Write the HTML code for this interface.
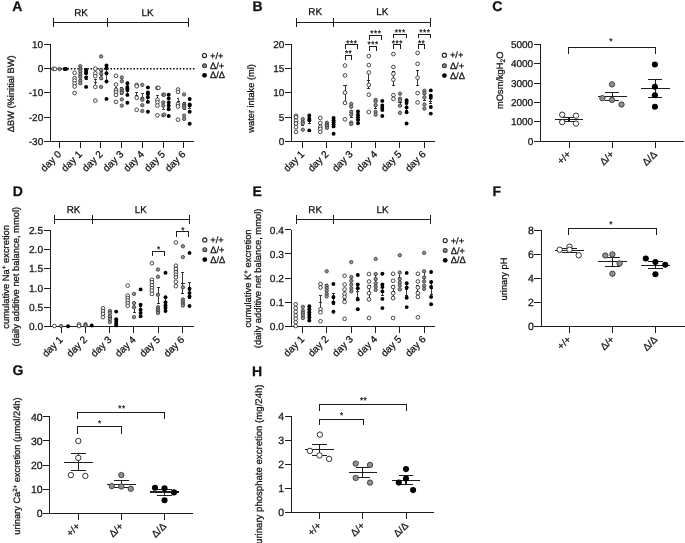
<!DOCTYPE html>
<html><head><meta charset="utf-8"><style>
html,body{margin:0;padding:0;background:#fff;width:685px;height:543px;overflow:hidden}
svg{display:block;will-change:transform}
line,polyline{shape-rendering:crispEdges}
text{text-rendering:geometricPrecision;font-family:"Liberation Sans",sans-serif;fill:#111;stroke:#111;stroke-width:0.25px}
</style></head><body>
<svg width="685" height="543" viewBox="0 0 685 543">
<rect width="685" height="543" fill="#fff"/>
<text x="12.2" y="10.5" font-size="14" text-anchor="start" font-weight="bold" >A</text>
<line x1="53.5" y1="22.5" x2="188.0" y2="22.5" stroke="#1e1e1e" stroke-width="1.0" />
<line x1="53.5" y1="18.2" x2="53.5" y2="26.8" stroke="#1e1e1e" stroke-width="1.0" />
<line x1="107.8" y1="18.2" x2="107.8" y2="26.8" stroke="#1e1e1e" stroke-width="1.0" />
<line x1="188.0" y1="18.2" x2="188.0" y2="26.8" stroke="#1e1e1e" stroke-width="1.0" />
<text x="81.0" y="15.5" font-size="9.9" text-anchor="middle" font-weight="normal" >RK</text>
<text x="147.5" y="15.5" font-size="9.9" text-anchor="middle" font-weight="normal" >LK</text>
<line x1="50.4" y1="44.4" x2="50.4" y2="141.2" stroke="#1e1e1e" stroke-width="1.0" />
<line x1="43.8" y1="44.4" x2="50.4" y2="44.4" stroke="#1e1e1e" stroke-width="1.0" />
<text x="43.2" y="48.0" font-size="10" text-anchor="end" font-weight="normal" >10</text>
<line x1="43.8" y1="68.6" x2="50.4" y2="68.6" stroke="#1e1e1e" stroke-width="1.0" />
<text x="43.2" y="72.2" font-size="10" text-anchor="end" font-weight="normal" >0</text>
<line x1="43.8" y1="92.8" x2="50.4" y2="92.8" stroke="#1e1e1e" stroke-width="1.0" />
<text x="43.2" y="96.4" font-size="10" text-anchor="end" font-weight="normal" >-10</text>
<line x1="43.8" y1="117.0" x2="50.4" y2="117.0" stroke="#1e1e1e" stroke-width="1.0" />
<text x="43.2" y="120.6" font-size="10" text-anchor="end" font-weight="normal" >-20</text>
<line x1="43.8" y1="141.2" x2="50.4" y2="141.2" stroke="#1e1e1e" stroke-width="1.0" />
<text x="43.2" y="144.8" font-size="10" text-anchor="end" font-weight="normal" >-30</text>
<line x1="50.4" y1="141.2" x2="194.3" y2="141.2" stroke="#1e1e1e" stroke-width="1.0" />
<line x1="59.4" y1="141.2" x2="59.4" y2="148.0" stroke="#1e1e1e" stroke-width="1.0" />
<line x1="80.1" y1="141.2" x2="80.1" y2="148.0" stroke="#1e1e1e" stroke-width="1.0" />
<line x1="100.9" y1="141.2" x2="100.9" y2="148.0" stroke="#1e1e1e" stroke-width="1.0" />
<line x1="121.6" y1="141.2" x2="121.6" y2="148.0" stroke="#1e1e1e" stroke-width="1.0" />
<line x1="142.3" y1="141.2" x2="142.3" y2="148.0" stroke="#1e1e1e" stroke-width="1.0" />
<line x1="163.1" y1="141.2" x2="163.1" y2="148.0" stroke="#1e1e1e" stroke-width="1.0" />
<line x1="183.8" y1="141.2" x2="183.8" y2="148.0" stroke="#1e1e1e" stroke-width="1.0" />
<line x1="51" y1="68.8" x2="196" y2="68.8" stroke="#000" stroke-width="1.5" stroke-dasharray="1.5 1.8" style="shape-rendering:auto"/>
<text x="61.9" y="154.9" font-size="10" text-anchor="end" font-weight="normal" transform="rotate(-45 61.9 154.9)" >day 0</text>
<text x="82.6" y="154.9" font-size="10" text-anchor="end" font-weight="normal" transform="rotate(-45 82.6 154.9)" >day 1</text>
<text x="103.4" y="154.9" font-size="10" text-anchor="end" font-weight="normal" transform="rotate(-45 103.4 154.9)" >day 2</text>
<text x="124.1" y="154.9" font-size="10" text-anchor="end" font-weight="normal" transform="rotate(-45 124.1 154.9)" >day 3</text>
<text x="144.8" y="154.9" font-size="10" text-anchor="end" font-weight="normal" transform="rotate(-45 144.8 154.9)" >day 4</text>
<text x="165.6" y="154.9" font-size="10" text-anchor="end" font-weight="normal" transform="rotate(-45 165.6 154.9)" >day 5</text>
<text x="186.3" y="154.9" font-size="10" text-anchor="end" font-weight="normal" transform="rotate(-45 186.3 154.9)" >day 6</text>
<text x="14.5" y="93.8" font-size="9.3" text-anchor="middle" font-weight="normal" transform="rotate(-90 14.5 93.8)" >ΔBW (%initial BW)</text>
<text x="210.0" y="58.7" font-size="9.3" text-anchor="start" font-weight="normal" >+/+</text>
<text x="210.0" y="68.9" font-size="9.3" text-anchor="start" font-weight="normal" >Δ/+</text>
<text x="210.0" y="78.4" font-size="9.3" text-anchor="start" font-weight="normal" >Δ/Δ</text>
<line x1="73.1" y1="83.6" x2="76.1" y2="83.6" stroke="#1e1e1e" stroke-width="0.8" />
<line x1="74.6" y1="80.5" x2="74.6" y2="86.7" stroke="#1e1e1e" stroke-width="0.8" />
<line x1="73.2" y1="80.5" x2="76.0" y2="80.5" stroke="#1e1e1e" stroke-width="0.8" />
<line x1="73.2" y1="86.7" x2="76.0" y2="86.7" stroke="#1e1e1e" stroke-width="0.8" />
<line x1="78.8" y1="76.0" x2="81.8" y2="76.0" stroke="#1e1e1e" stroke-width="0.8" />
<line x1="80.3" y1="72.4" x2="80.3" y2="79.9" stroke="#1e1e1e" stroke-width="0.8" />
<line x1="78.9" y1="72.4" x2="81.7" y2="72.4" stroke="#1e1e1e" stroke-width="0.8" />
<line x1="78.9" y1="79.9" x2="81.7" y2="79.9" stroke="#1e1e1e" stroke-width="0.8" />
<line x1="84.6" y1="76.0" x2="87.6" y2="76.0" stroke="#1e1e1e" stroke-width="0.8" />
<line x1="86.1" y1="72.5" x2="86.1" y2="79.5" stroke="#1e1e1e" stroke-width="0.8" />
<line x1="84.7" y1="72.5" x2="87.5" y2="72.5" stroke="#1e1e1e" stroke-width="0.8" />
<line x1="84.7" y1="79.5" x2="87.5" y2="79.5" stroke="#1e1e1e" stroke-width="0.8" />
<line x1="93.8" y1="82.4" x2="96.8" y2="82.4" stroke="#1e1e1e" stroke-width="0.8" />
<line x1="95.3" y1="79.0" x2="95.3" y2="86.5" stroke="#1e1e1e" stroke-width="0.8" />
<line x1="93.9" y1="79.0" x2="96.7" y2="79.0" stroke="#1e1e1e" stroke-width="0.8" />
<line x1="93.9" y1="86.5" x2="96.7" y2="86.5" stroke="#1e1e1e" stroke-width="0.8" />
<line x1="99.6" y1="75.0" x2="102.6" y2="75.0" stroke="#1e1e1e" stroke-width="0.8" />
<line x1="101.1" y1="71.0" x2="101.1" y2="79.0" stroke="#1e1e1e" stroke-width="0.8" />
<line x1="99.7" y1="71.0" x2="102.5" y2="71.0" stroke="#1e1e1e" stroke-width="0.8" />
<line x1="99.7" y1="79.0" x2="102.5" y2="79.0" stroke="#1e1e1e" stroke-width="0.8" />
<line x1="105.0" y1="74.5" x2="108.0" y2="74.5" stroke="#1e1e1e" stroke-width="0.8" />
<line x1="106.5" y1="68.3" x2="106.5" y2="80.7" stroke="#1e1e1e" stroke-width="0.8" />
<line x1="105.1" y1="68.3" x2="107.9" y2="68.3" stroke="#1e1e1e" stroke-width="0.8" />
<line x1="105.1" y1="80.7" x2="107.9" y2="80.7" stroke="#1e1e1e" stroke-width="0.8" />
<line x1="114.5" y1="90.5" x2="117.5" y2="90.5" stroke="#1e1e1e" stroke-width="0.8" />
<line x1="116.0" y1="87.5" x2="116.0" y2="93.5" stroke="#1e1e1e" stroke-width="0.8" />
<line x1="114.6" y1="87.5" x2="117.4" y2="87.5" stroke="#1e1e1e" stroke-width="0.8" />
<line x1="114.6" y1="93.5" x2="117.4" y2="93.5" stroke="#1e1e1e" stroke-width="0.8" />
<line x1="120.3" y1="91.0" x2="123.3" y2="91.0" stroke="#1e1e1e" stroke-width="0.8" />
<line x1="121.8" y1="87.4" x2="121.8" y2="94.9" stroke="#1e1e1e" stroke-width="0.8" />
<line x1="120.4" y1="87.4" x2="123.2" y2="87.4" stroke="#1e1e1e" stroke-width="0.8" />
<line x1="120.4" y1="94.9" x2="123.2" y2="94.9" stroke="#1e1e1e" stroke-width="0.8" />
<line x1="125.9" y1="91.0" x2="128.9" y2="91.0" stroke="#1e1e1e" stroke-width="0.8" />
<line x1="127.4" y1="88.0" x2="127.4" y2="94.0" stroke="#1e1e1e" stroke-width="0.8" />
<line x1="126.0" y1="88.0" x2="128.8" y2="88.0" stroke="#1e1e1e" stroke-width="0.8" />
<line x1="126.0" y1="94.0" x2="128.8" y2="94.0" stroke="#1e1e1e" stroke-width="0.8" />
<line x1="135.2" y1="95.0" x2="138.2" y2="95.0" stroke="#1e1e1e" stroke-width="0.8" />
<line x1="136.7" y1="92.0" x2="136.7" y2="98.0" stroke="#1e1e1e" stroke-width="0.8" />
<line x1="135.3" y1="92.0" x2="138.1" y2="92.0" stroke="#1e1e1e" stroke-width="0.8" />
<line x1="135.3" y1="98.0" x2="138.1" y2="98.0" stroke="#1e1e1e" stroke-width="0.8" />
<line x1="140.8" y1="97.0" x2="143.8" y2="97.0" stroke="#1e1e1e" stroke-width="0.8" />
<line x1="142.3" y1="93.6" x2="142.3" y2="100.5" stroke="#1e1e1e" stroke-width="0.8" />
<line x1="140.9" y1="93.6" x2="143.7" y2="93.6" stroke="#1e1e1e" stroke-width="0.8" />
<line x1="140.9" y1="100.5" x2="143.7" y2="100.5" stroke="#1e1e1e" stroke-width="0.8" />
<line x1="146.4" y1="97.5" x2="149.4" y2="97.5" stroke="#1e1e1e" stroke-width="0.8" />
<line x1="147.9" y1="94.5" x2="147.9" y2="100.5" stroke="#1e1e1e" stroke-width="0.8" />
<line x1="146.5" y1="94.5" x2="149.3" y2="94.5" stroke="#1e1e1e" stroke-width="0.8" />
<line x1="146.5" y1="100.5" x2="149.3" y2="100.5" stroke="#1e1e1e" stroke-width="0.8" />
<line x1="155.9" y1="99.0" x2="158.9" y2="99.0" stroke="#1e1e1e" stroke-width="0.8" />
<line x1="157.4" y1="95.3" x2="157.4" y2="102.7" stroke="#1e1e1e" stroke-width="0.8" />
<line x1="156.0" y1="95.3" x2="158.8" y2="95.3" stroke="#1e1e1e" stroke-width="0.8" />
<line x1="156.0" y1="102.7" x2="158.8" y2="102.7" stroke="#1e1e1e" stroke-width="0.8" />
<line x1="161.7" y1="105.4" x2="164.7" y2="105.4" stroke="#1e1e1e" stroke-width="0.8" />
<line x1="163.2" y1="101.5" x2="163.2" y2="109.2" stroke="#1e1e1e" stroke-width="0.8" />
<line x1="161.8" y1="101.5" x2="164.6" y2="101.5" stroke="#1e1e1e" stroke-width="0.8" />
<line x1="161.8" y1="109.2" x2="164.6" y2="109.2" stroke="#1e1e1e" stroke-width="0.8" />
<line x1="167.2" y1="104.6" x2="170.2" y2="104.6" stroke="#1e1e1e" stroke-width="0.8" />
<line x1="168.7" y1="102.0" x2="168.7" y2="107.2" stroke="#1e1e1e" stroke-width="0.8" />
<line x1="167.3" y1="102.0" x2="170.1" y2="102.0" stroke="#1e1e1e" stroke-width="0.8" />
<line x1="167.3" y1="107.2" x2="170.1" y2="107.2" stroke="#1e1e1e" stroke-width="0.8" />
<line x1="176.5" y1="101.5" x2="179.5" y2="101.5" stroke="#1e1e1e" stroke-width="0.8" />
<line x1="178.0" y1="98.6" x2="178.0" y2="104.4" stroke="#1e1e1e" stroke-width="0.8" />
<line x1="176.6" y1="98.6" x2="179.4" y2="98.6" stroke="#1e1e1e" stroke-width="0.8" />
<line x1="176.6" y1="104.4" x2="179.4" y2="104.4" stroke="#1e1e1e" stroke-width="0.8" />
<line x1="182.6" y1="106.0" x2="185.6" y2="106.0" stroke="#1e1e1e" stroke-width="0.8" />
<line x1="184.1" y1="102.3" x2="184.1" y2="109.7" stroke="#1e1e1e" stroke-width="0.8" />
<line x1="182.7" y1="102.3" x2="185.5" y2="102.3" stroke="#1e1e1e" stroke-width="0.8" />
<line x1="182.7" y1="109.7" x2="185.5" y2="109.7" stroke="#1e1e1e" stroke-width="0.8" />
<line x1="188.2" y1="106.0" x2="191.2" y2="106.0" stroke="#1e1e1e" stroke-width="0.8" />
<line x1="189.7" y1="103.5" x2="189.7" y2="108.5" stroke="#1e1e1e" stroke-width="0.8" />
<line x1="188.3" y1="103.5" x2="191.1" y2="103.5" stroke="#1e1e1e" stroke-width="0.8" />
<line x1="188.3" y1="108.5" x2="191.1" y2="108.5" stroke="#1e1e1e" stroke-width="0.8" />
<text x="252.4" y="10.7" font-size="14" text-anchor="start" font-weight="bold" >B</text>
<line x1="296.4" y1="22.3" x2="430.6" y2="22.3" stroke="#1e1e1e" stroke-width="1.0" />
<line x1="296.4" y1="18.0" x2="296.4" y2="26.6" stroke="#1e1e1e" stroke-width="1.0" />
<line x1="333.6" y1="18.0" x2="333.6" y2="26.6" stroke="#1e1e1e" stroke-width="1.0" />
<line x1="430.6" y1="18.0" x2="430.6" y2="26.6" stroke="#1e1e1e" stroke-width="1.0" />
<text x="315.2" y="15.3" font-size="9.9" text-anchor="middle" font-weight="normal" >RK</text>
<text x="382.4" y="15.3" font-size="9.9" text-anchor="middle" font-weight="normal" >LK</text>
<line x1="291.5" y1="44.4" x2="291.5" y2="141.2" stroke="#1e1e1e" stroke-width="1.0" />
<line x1="284.9" y1="141.2" x2="291.5" y2="141.2" stroke="#1e1e1e" stroke-width="1.0" />
<text x="284.3" y="144.8" font-size="10" text-anchor="end" font-weight="normal" >0</text>
<line x1="284.9" y1="117.0" x2="291.5" y2="117.0" stroke="#1e1e1e" stroke-width="1.0" />
<text x="284.3" y="120.6" font-size="10" text-anchor="end" font-weight="normal" >5</text>
<line x1="284.9" y1="92.8" x2="291.5" y2="92.8" stroke="#1e1e1e" stroke-width="1.0" />
<text x="284.3" y="96.4" font-size="10" text-anchor="end" font-weight="normal" >10</text>
<line x1="284.9" y1="68.6" x2="291.5" y2="68.6" stroke="#1e1e1e" stroke-width="1.0" />
<text x="284.3" y="72.2" font-size="10" text-anchor="end" font-weight="normal" >15</text>
<line x1="284.9" y1="44.4" x2="291.5" y2="44.4" stroke="#1e1e1e" stroke-width="1.0" />
<text x="284.3" y="48.0" font-size="10" text-anchor="end" font-weight="normal" >20</text>
<line x1="291.5" y1="141.2" x2="435.3" y2="141.2" stroke="#1e1e1e" stroke-width="1.0" />
<line x1="302.4" y1="141.2" x2="302.4" y2="148.0" stroke="#1e1e1e" stroke-width="1.0" />
<line x1="326.7" y1="141.2" x2="326.7" y2="148.0" stroke="#1e1e1e" stroke-width="1.0" />
<line x1="351.0" y1="141.2" x2="351.0" y2="148.0" stroke="#1e1e1e" stroke-width="1.0" />
<line x1="375.4" y1="141.2" x2="375.4" y2="148.0" stroke="#1e1e1e" stroke-width="1.0" />
<line x1="399.7" y1="141.2" x2="399.7" y2="148.0" stroke="#1e1e1e" stroke-width="1.0" />
<line x1="424.0" y1="141.2" x2="424.0" y2="148.0" stroke="#1e1e1e" stroke-width="1.0" />
<text x="304.9" y="154.9" font-size="10" text-anchor="end" font-weight="normal" transform="rotate(-45 304.9 154.9)" >day 1</text>
<text x="329.2" y="154.9" font-size="10" text-anchor="end" font-weight="normal" transform="rotate(-45 329.2 154.9)" >day 2</text>
<text x="353.5" y="154.9" font-size="10" text-anchor="end" font-weight="normal" transform="rotate(-45 353.5 154.9)" >day 3</text>
<text x="377.9" y="154.9" font-size="10" text-anchor="end" font-weight="normal" transform="rotate(-45 377.9 154.9)" >day 4</text>
<text x="402.2" y="154.9" font-size="10" text-anchor="end" font-weight="normal" transform="rotate(-45 402.2 154.9)" >day 5</text>
<text x="426.5" y="154.9" font-size="10" text-anchor="end" font-weight="normal" transform="rotate(-45 426.5 154.9)" >day 6</text>
<text x="254.5" y="98.4" font-size="9.3" text-anchor="middle" font-weight="normal" transform="rotate(-90 254.5 98.4)" >water intake (ml)</text>
<text x="449.9" y="58.3" font-size="9.3" text-anchor="start" font-weight="normal" >+/+</text>
<text x="449.9" y="68.9" font-size="9.3" text-anchor="start" font-weight="normal" >Δ/+</text>
<text x="449.9" y="78.7" font-size="9.3" text-anchor="start" font-weight="normal" >Δ/Δ</text>
<line x1="294.4" y1="123.5" x2="297.6" y2="123.5" stroke="#1e1e1e" stroke-width="0.9" />
<line x1="296.0" y1="122.3" x2="296.0" y2="124.7" stroke="#1e1e1e" stroke-width="0.9" />
<line x1="294.4" y1="122.3" x2="297.6" y2="122.3" stroke="#1e1e1e" stroke-width="0.9" />
<line x1="294.4" y1="124.7" x2="297.6" y2="124.7" stroke="#1e1e1e" stroke-width="0.9" />
<line x1="301.2" y1="123.3" x2="304.4" y2="123.3" stroke="#1e1e1e" stroke-width="0.9" />
<line x1="302.8" y1="121.5" x2="302.8" y2="125.0" stroke="#1e1e1e" stroke-width="0.9" />
<line x1="301.2" y1="121.5" x2="304.4" y2="121.5" stroke="#1e1e1e" stroke-width="0.9" />
<line x1="301.2" y1="125.0" x2="304.4" y2="125.0" stroke="#1e1e1e" stroke-width="0.9" />
<line x1="307.7" y1="121.2" x2="310.9" y2="121.2" stroke="#1e1e1e" stroke-width="0.9" />
<line x1="309.3" y1="119.0" x2="309.3" y2="123.5" stroke="#1e1e1e" stroke-width="0.9" />
<line x1="307.7" y1="119.0" x2="310.9" y2="119.0" stroke="#1e1e1e" stroke-width="0.9" />
<line x1="307.7" y1="123.5" x2="310.9" y2="123.5" stroke="#1e1e1e" stroke-width="0.9" />
<line x1="318.7" y1="125.0" x2="321.9" y2="125.0" stroke="#1e1e1e" stroke-width="0.9" />
<line x1="320.3" y1="123.5" x2="320.3" y2="126.5" stroke="#1e1e1e" stroke-width="0.9" />
<line x1="318.7" y1="123.5" x2="321.9" y2="123.5" stroke="#1e1e1e" stroke-width="0.9" />
<line x1="318.7" y1="126.5" x2="321.9" y2="126.5" stroke="#1e1e1e" stroke-width="0.9" />
<line x1="325.3" y1="125.2" x2="328.5" y2="125.2" stroke="#1e1e1e" stroke-width="0.9" />
<line x1="326.9" y1="124.0" x2="326.9" y2="126.5" stroke="#1e1e1e" stroke-width="0.9" />
<line x1="325.3" y1="124.0" x2="328.5" y2="124.0" stroke="#1e1e1e" stroke-width="0.9" />
<line x1="325.3" y1="126.5" x2="328.5" y2="126.5" stroke="#1e1e1e" stroke-width="0.9" />
<line x1="332.0" y1="124.0" x2="335.2" y2="124.0" stroke="#1e1e1e" stroke-width="0.9" />
<line x1="333.6" y1="121.5" x2="333.6" y2="126.5" stroke="#1e1e1e" stroke-width="0.9" />
<line x1="332.0" y1="121.5" x2="335.2" y2="121.5" stroke="#1e1e1e" stroke-width="0.9" />
<line x1="332.0" y1="126.5" x2="335.2" y2="126.5" stroke="#1e1e1e" stroke-width="0.9" />
<line x1="343.4" y1="93.5" x2="346.6" y2="93.5" stroke="#1e1e1e" stroke-width="0.9" />
<line x1="345.0" y1="85.0" x2="345.0" y2="102.3" stroke="#1e1e1e" stroke-width="0.9" />
<line x1="343.4" y1="85.0" x2="346.6" y2="85.0" stroke="#1e1e1e" stroke-width="0.9" />
<line x1="343.4" y1="102.3" x2="346.6" y2="102.3" stroke="#1e1e1e" stroke-width="0.9" />
<line x1="349.6" y1="113.5" x2="352.8" y2="113.5" stroke="#1e1e1e" stroke-width="0.9" />
<line x1="351.2" y1="110.5" x2="351.2" y2="117.3" stroke="#1e1e1e" stroke-width="0.9" />
<line x1="349.6" y1="110.5" x2="352.8" y2="110.5" stroke="#1e1e1e" stroke-width="0.9" />
<line x1="349.6" y1="117.3" x2="352.8" y2="117.3" stroke="#1e1e1e" stroke-width="0.9" />
<line x1="356.4" y1="117.3" x2="359.6" y2="117.3" stroke="#1e1e1e" stroke-width="0.9" />
<line x1="358.0" y1="115.0" x2="358.0" y2="119.6" stroke="#1e1e1e" stroke-width="0.9" />
<line x1="356.4" y1="115.0" x2="359.6" y2="115.0" stroke="#1e1e1e" stroke-width="0.9" />
<line x1="356.4" y1="119.6" x2="359.6" y2="119.6" stroke="#1e1e1e" stroke-width="0.9" />
<line x1="367.2" y1="80.6" x2="370.4" y2="80.6" stroke="#1e1e1e" stroke-width="0.9" />
<line x1="368.8" y1="72.3" x2="368.8" y2="88.8" stroke="#1e1e1e" stroke-width="0.9" />
<line x1="367.2" y1="72.3" x2="370.4" y2="72.3" stroke="#1e1e1e" stroke-width="0.9" />
<line x1="367.2" y1="88.8" x2="370.4" y2="88.8" stroke="#1e1e1e" stroke-width="0.9" />
<line x1="374.0" y1="106.5" x2="377.2" y2="106.5" stroke="#1e1e1e" stroke-width="0.9" />
<line x1="375.6" y1="104.5" x2="375.6" y2="108.5" stroke="#1e1e1e" stroke-width="0.9" />
<line x1="374.0" y1="104.5" x2="377.2" y2="104.5" stroke="#1e1e1e" stroke-width="0.9" />
<line x1="374.0" y1="108.5" x2="377.2" y2="108.5" stroke="#1e1e1e" stroke-width="0.9" />
<line x1="380.7" y1="108.0" x2="383.9" y2="108.0" stroke="#1e1e1e" stroke-width="0.9" />
<line x1="382.3" y1="105.5" x2="382.3" y2="110.5" stroke="#1e1e1e" stroke-width="0.9" />
<line x1="380.7" y1="105.5" x2="383.9" y2="105.5" stroke="#1e1e1e" stroke-width="0.9" />
<line x1="380.7" y1="110.5" x2="383.9" y2="110.5" stroke="#1e1e1e" stroke-width="0.9" />
<line x1="391.8" y1="78.4" x2="395.0" y2="78.4" stroke="#1e1e1e" stroke-width="0.9" />
<line x1="393.4" y1="71.2" x2="393.4" y2="85.6" stroke="#1e1e1e" stroke-width="0.9" />
<line x1="391.8" y1="71.2" x2="395.0" y2="71.2" stroke="#1e1e1e" stroke-width="0.9" />
<line x1="391.8" y1="85.6" x2="395.0" y2="85.6" stroke="#1e1e1e" stroke-width="0.9" />
<line x1="398.4" y1="102.2" x2="401.6" y2="102.2" stroke="#1e1e1e" stroke-width="0.9" />
<line x1="400.0" y1="99.5" x2="400.0" y2="105.0" stroke="#1e1e1e" stroke-width="0.9" />
<line x1="398.4" y1="99.5" x2="401.6" y2="99.5" stroke="#1e1e1e" stroke-width="0.9" />
<line x1="398.4" y1="105.0" x2="401.6" y2="105.0" stroke="#1e1e1e" stroke-width="0.9" />
<line x1="405.0" y1="107.5" x2="408.2" y2="107.5" stroke="#1e1e1e" stroke-width="0.9" />
<line x1="406.6" y1="104.0" x2="406.6" y2="110.5" stroke="#1e1e1e" stroke-width="0.9" />
<line x1="405.0" y1="104.0" x2="408.2" y2="104.0" stroke="#1e1e1e" stroke-width="0.9" />
<line x1="405.0" y1="110.5" x2="408.2" y2="110.5" stroke="#1e1e1e" stroke-width="0.9" />
<line x1="416.0" y1="78.0" x2="419.2" y2="78.0" stroke="#1e1e1e" stroke-width="0.9" />
<line x1="417.6" y1="70.4" x2="417.6" y2="85.6" stroke="#1e1e1e" stroke-width="0.9" />
<line x1="416.0" y1="70.4" x2="419.2" y2="70.4" stroke="#1e1e1e" stroke-width="0.9" />
<line x1="416.0" y1="85.6" x2="419.2" y2="85.6" stroke="#1e1e1e" stroke-width="0.9" />
<line x1="422.8" y1="97.4" x2="426.0" y2="97.4" stroke="#1e1e1e" stroke-width="0.9" />
<line x1="424.4" y1="94.8" x2="424.4" y2="100.3" stroke="#1e1e1e" stroke-width="0.9" />
<line x1="422.8" y1="94.8" x2="426.0" y2="94.8" stroke="#1e1e1e" stroke-width="0.9" />
<line x1="422.8" y1="100.3" x2="426.0" y2="100.3" stroke="#1e1e1e" stroke-width="0.9" />
<line x1="429.2" y1="101.5" x2="432.4" y2="101.5" stroke="#1e1e1e" stroke-width="0.9" />
<line x1="430.8" y1="98.0" x2="430.8" y2="103.2" stroke="#1e1e1e" stroke-width="0.9" />
<line x1="429.2" y1="98.0" x2="432.4" y2="98.0" stroke="#1e1e1e" stroke-width="0.9" />
<line x1="429.2" y1="103.2" x2="432.4" y2="103.2" stroke="#1e1e1e" stroke-width="0.9" />
<polyline points="345.1,49.1 345.1,44.4 357.5,44.4 357.5,49.1" fill="none" stroke="#1e1e1e" stroke-width="1"/>
<text x="351.8" y="45.6" font-size="8.2" text-anchor="middle" font-weight="normal" letter-spacing="0.5">***</text>
<polyline points="345.1,60.0 345.1,55.2 351.4,55.2 351.4,60.0" fill="none" stroke="#1e1e1e" stroke-width="1"/>
<text x="348.6" y="55.9" font-size="8.2" text-anchor="middle" font-weight="normal" letter-spacing="0.5">**</text>
<polyline points="369.2,40.3 369.2,35.2 381.6,35.2 381.6,40.3" fill="none" stroke="#1e1e1e" stroke-width="1"/>
<text x="375.9" y="36.1" font-size="8.2" text-anchor="middle" font-weight="normal" letter-spacing="0.5">***</text>
<polyline points="369.2,51.3 369.2,46.5 376.2,46.5 376.2,51.3" fill="none" stroke="#1e1e1e" stroke-width="1"/>
<text x="373.1" y="47.0" font-size="8.2" text-anchor="middle" font-weight="normal" letter-spacing="0.5">***</text>
<polyline points="393.7,38.4 393.7,34.0 406.4,34.0 406.4,38.4" fill="none" stroke="#1e1e1e" stroke-width="1"/>
<text x="400.2" y="35.0" font-size="8.2" text-anchor="middle" font-weight="normal" letter-spacing="0.5">***</text>
<polyline points="393.7,49.1 393.7,44.4 400.3,44.4 400.3,49.1" fill="none" stroke="#1e1e1e" stroke-width="1"/>
<text x="397.4" y="45.7" font-size="8.2" text-anchor="middle" font-weight="normal" letter-spacing="0.5">***</text>
<polyline points="418.4,38.4 418.4,34.0 430.5,34.0 430.5,38.4" fill="none" stroke="#1e1e1e" stroke-width="1"/>
<text x="424.8" y="35.0" font-size="8.2" text-anchor="middle" font-weight="normal" letter-spacing="0.5">***</text>
<polyline points="418.4,49.1 418.4,44.4 424.4,44.4 424.4,49.1" fill="none" stroke="#1e1e1e" stroke-width="1"/>
<text x="421.6" y="45.7" font-size="8.2" text-anchor="middle" font-weight="normal" letter-spacing="0.5">**</text>
<text x="492.3" y="10.6" font-size="14" text-anchor="start" font-weight="bold" >C</text>
<line x1="540.4" y1="44.1" x2="540.4" y2="141.2" stroke="#1e1e1e" stroke-width="1.0" />
<line x1="533.8" y1="141.2" x2="540.4" y2="141.2" stroke="#1e1e1e" stroke-width="1.0" />
<text x="533.2" y="144.8" font-size="10" text-anchor="end" font-weight="normal" >0</text>
<line x1="533.8" y1="121.8" x2="540.4" y2="121.8" stroke="#1e1e1e" stroke-width="1.0" />
<text x="533.2" y="125.4" font-size="10" text-anchor="end" font-weight="normal" >1000</text>
<line x1="533.8" y1="102.4" x2="540.4" y2="102.4" stroke="#1e1e1e" stroke-width="1.0" />
<text x="533.2" y="106.0" font-size="10" text-anchor="end" font-weight="normal" >2000</text>
<line x1="533.8" y1="83.0" x2="540.4" y2="83.0" stroke="#1e1e1e" stroke-width="1.0" />
<text x="533.2" y="86.6" font-size="10" text-anchor="end" font-weight="normal" >3000</text>
<line x1="533.8" y1="63.6" x2="540.4" y2="63.6" stroke="#1e1e1e" stroke-width="1.0" />
<text x="533.2" y="67.2" font-size="10" text-anchor="end" font-weight="normal" >4000</text>
<line x1="533.8" y1="44.2" x2="540.4" y2="44.2" stroke="#1e1e1e" stroke-width="1.0" />
<text x="533.2" y="47.8" font-size="10" text-anchor="end" font-weight="normal" >5000</text>
<line x1="540.4" y1="141.2" x2="683.5" y2="141.2" stroke="#1e1e1e" stroke-width="1.0" />
<line x1="569.0" y1="141.2" x2="569.0" y2="148.0" stroke="#1e1e1e" stroke-width="1.0" />
<line x1="612.2" y1="141.2" x2="612.2" y2="148.0" stroke="#1e1e1e" stroke-width="1.0" />
<line x1="655.2" y1="141.2" x2="655.2" y2="148.0" stroke="#1e1e1e" stroke-width="1.0" />
<text x="571.5" y="154.9" font-size="10" text-anchor="end" font-weight="normal" transform="rotate(-45 571.5 154.9)" >+/+</text>
<text x="614.7" y="154.9" font-size="10" text-anchor="end" font-weight="normal" transform="rotate(-45 614.7 154.9)" >Δ/+</text>
<text x="657.7" y="154.9" font-size="10" text-anchor="end" font-weight="normal" transform="rotate(-45 657.7 154.9)" >Δ/Δ</text>
<text x="503.0" y="80.3" font-size="9.3" text-anchor="middle" font-weight="normal" transform="rotate(-90 503.0 80.3)" >mOsm/kgH<tspan font-size="6.5" dy="2">2</tspan><tspan dy="-2">O</tspan></text>
<polyline points="568.5,53.5 568.5,47.0 655.2,47.0 655.2,53.5" fill="none" stroke="#1e1e1e" stroke-width="1"/>
<text x="611.2" y="43.8" font-size="8.2" text-anchor="middle" font-weight="normal" letter-spacing="0.5">*</text>
<line x1="554.7" y1="119.3" x2="583.3" y2="119.3" stroke="#1e1e1e" stroke-width="1.1" />
<line x1="569.0" y1="117.1" x2="569.0" y2="121.4" stroke="#1e1e1e" stroke-width="1.1" />
<line x1="561.8" y1="117.1" x2="576.2" y2="117.1" stroke="#1e1e1e" stroke-width="1.1" />
<line x1="561.8" y1="121.4" x2="576.2" y2="121.4" stroke="#1e1e1e" stroke-width="1.1" />
<line x1="597.9" y1="96.7" x2="626.5" y2="96.7" stroke="#1e1e1e" stroke-width="1.1" />
<line x1="612.2" y1="92.4" x2="612.2" y2="100.9" stroke="#1e1e1e" stroke-width="1.1" />
<line x1="605.0" y1="92.4" x2="619.4" y2="92.4" stroke="#1e1e1e" stroke-width="1.1" />
<line x1="605.0" y1="100.9" x2="619.4" y2="100.9" stroke="#1e1e1e" stroke-width="1.1" />
<line x1="640.9" y1="88.2" x2="669.5" y2="88.2" stroke="#1e1e1e" stroke-width="1.1" />
<line x1="655.2" y1="79.7" x2="655.2" y2="97.3" stroke="#1e1e1e" stroke-width="1.1" />
<line x1="648.0" y1="79.7" x2="662.4" y2="79.7" stroke="#1e1e1e" stroke-width="1.1" />
<line x1="648.0" y1="97.3" x2="662.4" y2="97.3" stroke="#1e1e1e" stroke-width="1.1" />
<text x="12.8" y="195.6" font-size="14" text-anchor="start" font-weight="bold" >D</text>
<line x1="54.5" y1="219.3" x2="189.1" y2="219.3" stroke="#1e1e1e" stroke-width="1.0" />
<line x1="54.5" y1="215.0" x2="54.5" y2="223.6" stroke="#1e1e1e" stroke-width="1.0" />
<line x1="92.2" y1="215.0" x2="92.2" y2="223.6" stroke="#1e1e1e" stroke-width="1.0" />
<line x1="189.1" y1="215.0" x2="189.1" y2="223.6" stroke="#1e1e1e" stroke-width="1.0" />
<text x="73.6" y="212.9" font-size="9.9" text-anchor="middle" font-weight="normal" >RK</text>
<text x="140.9" y="212.9" font-size="9.9" text-anchor="middle" font-weight="normal" >LK</text>
<line x1="50.3" y1="230.2" x2="50.3" y2="326.5" stroke="#1e1e1e" stroke-width="1.0" />
<line x1="43.7" y1="326.5" x2="50.3" y2="326.5" stroke="#1e1e1e" stroke-width="1.0" />
<text x="43.1" y="330.2" font-size="10.2" text-anchor="end" font-weight="normal" >0.0</text>
<line x1="43.7" y1="307.2" x2="50.3" y2="307.2" stroke="#1e1e1e" stroke-width="1.0" />
<text x="43.1" y="310.9" font-size="10.2" text-anchor="end" font-weight="normal" >0.5</text>
<line x1="43.7" y1="288.0" x2="50.3" y2="288.0" stroke="#1e1e1e" stroke-width="1.0" />
<text x="43.1" y="291.7" font-size="10.2" text-anchor="end" font-weight="normal" >1.0</text>
<line x1="43.7" y1="268.7" x2="50.3" y2="268.7" stroke="#1e1e1e" stroke-width="1.0" />
<text x="43.1" y="272.4" font-size="10.2" text-anchor="end" font-weight="normal" >1.5</text>
<line x1="43.7" y1="249.5" x2="50.3" y2="249.5" stroke="#1e1e1e" stroke-width="1.0" />
<text x="43.1" y="253.1" font-size="10.2" text-anchor="end" font-weight="normal" >2.0</text>
<line x1="43.7" y1="230.2" x2="50.3" y2="230.2" stroke="#1e1e1e" stroke-width="1.0" />
<text x="43.1" y="233.9" font-size="10.2" text-anchor="end" font-weight="normal" >2.5</text>
<line x1="50.3" y1="326.5" x2="193.6" y2="326.5" stroke="#1e1e1e" stroke-width="1.0" />
<line x1="61.0" y1="326.5" x2="61.0" y2="333.3" stroke="#1e1e1e" stroke-width="1.0" />
<line x1="85.3" y1="326.5" x2="85.3" y2="333.3" stroke="#1e1e1e" stroke-width="1.0" />
<line x1="109.6" y1="326.5" x2="109.6" y2="333.3" stroke="#1e1e1e" stroke-width="1.0" />
<line x1="133.9" y1="326.5" x2="133.9" y2="333.3" stroke="#1e1e1e" stroke-width="1.0" />
<line x1="158.2" y1="326.5" x2="158.2" y2="333.3" stroke="#1e1e1e" stroke-width="1.0" />
<line x1="182.5" y1="326.5" x2="182.5" y2="333.3" stroke="#1e1e1e" stroke-width="1.0" />
<text x="63.5" y="340.2" font-size="10" text-anchor="end" font-weight="normal" transform="rotate(-45 63.5 340.2)" >day 1</text>
<text x="87.8" y="340.2" font-size="10" text-anchor="end" font-weight="normal" transform="rotate(-45 87.8 340.2)" >day 2</text>
<text x="112.1" y="340.2" font-size="10" text-anchor="end" font-weight="normal" transform="rotate(-45 112.1 340.2)" >day 3</text>
<text x="136.4" y="340.2" font-size="10" text-anchor="end" font-weight="normal" transform="rotate(-45 136.4 340.2)" >day 4</text>
<text x="160.7" y="340.2" font-size="10" text-anchor="end" font-weight="normal" transform="rotate(-45 160.7 340.2)" >day 5</text>
<text x="185.0" y="340.2" font-size="10" text-anchor="end" font-weight="normal" transform="rotate(-45 185.0 340.2)" >day 6</text>
<text x="9.2" y="276.8" font-size="9.4" text-anchor="middle" font-weight="normal" transform="rotate(-90 9.2 276.8)" >cumulative Na<tspan font-size="6.3" dy="-3.6">+</tspan><tspan dy="3.6"> excretion</tspan></text>
<text x="19.2" y="276.7" font-size="9.4" text-anchor="middle" font-weight="normal" transform="rotate(-90 19.2 276.7)" >(daily additive net balance, mmol)</text>
<text x="210.3" y="243.0" font-size="9.3" text-anchor="start" font-weight="normal" >+/+</text>
<text x="210.3" y="252.8" font-size="9.3" text-anchor="start" font-weight="normal" >Δ/+</text>
<text x="210.3" y="262.7" font-size="9.3" text-anchor="start" font-weight="normal" >Δ/Δ</text>
<line x1="101.4" y1="312.5" x2="104.6" y2="312.5" stroke="#1e1e1e" stroke-width="0.9" />
<line x1="103.0" y1="310.5" x2="103.0" y2="314.5" stroke="#1e1e1e" stroke-width="0.9" />
<line x1="101.5" y1="310.5" x2="104.5" y2="310.5" stroke="#1e1e1e" stroke-width="0.9" />
<line x1="101.5" y1="314.5" x2="104.5" y2="314.5" stroke="#1e1e1e" stroke-width="0.9" />
<line x1="108.3" y1="317.0" x2="111.5" y2="317.0" stroke="#1e1e1e" stroke-width="0.9" />
<line x1="109.9" y1="315.0" x2="109.9" y2="319.5" stroke="#1e1e1e" stroke-width="0.9" />
<line x1="108.4" y1="315.0" x2="111.4" y2="315.0" stroke="#1e1e1e" stroke-width="0.9" />
<line x1="108.4" y1="319.5" x2="111.4" y2="319.5" stroke="#1e1e1e" stroke-width="0.9" />
<line x1="114.6" y1="320.5" x2="117.8" y2="320.5" stroke="#1e1e1e" stroke-width="0.9" />
<line x1="116.2" y1="318.5" x2="116.2" y2="322.5" stroke="#1e1e1e" stroke-width="0.9" />
<line x1="114.7" y1="318.5" x2="117.7" y2="318.5" stroke="#1e1e1e" stroke-width="0.9" />
<line x1="114.7" y1="322.5" x2="117.7" y2="322.5" stroke="#1e1e1e" stroke-width="0.9" />
<line x1="126.1" y1="299.5" x2="129.3" y2="299.5" stroke="#1e1e1e" stroke-width="0.9" />
<line x1="127.7" y1="297.0" x2="127.7" y2="302.0" stroke="#1e1e1e" stroke-width="0.9" />
<line x1="126.2" y1="297.0" x2="129.2" y2="297.0" stroke="#1e1e1e" stroke-width="0.9" />
<line x1="126.2" y1="302.0" x2="129.2" y2="302.0" stroke="#1e1e1e" stroke-width="0.9" />
<line x1="132.4" y1="307.7" x2="135.6" y2="307.7" stroke="#1e1e1e" stroke-width="0.9" />
<line x1="134.0" y1="303.8" x2="134.0" y2="312.1" stroke="#1e1e1e" stroke-width="0.9" />
<line x1="132.5" y1="303.8" x2="135.5" y2="303.8" stroke="#1e1e1e" stroke-width="0.9" />
<line x1="132.5" y1="312.1" x2="135.5" y2="312.1" stroke="#1e1e1e" stroke-width="0.9" />
<line x1="139.0" y1="309.0" x2="142.2" y2="309.0" stroke="#1e1e1e" stroke-width="0.9" />
<line x1="140.6" y1="306.2" x2="140.6" y2="312.0" stroke="#1e1e1e" stroke-width="0.9" />
<line x1="139.1" y1="306.2" x2="142.1" y2="306.2" stroke="#1e1e1e" stroke-width="0.9" />
<line x1="139.1" y1="312.0" x2="142.1" y2="312.0" stroke="#1e1e1e" stroke-width="0.9" />
<line x1="150.3" y1="283.0" x2="153.5" y2="283.0" stroke="#1e1e1e" stroke-width="0.9" />
<line x1="151.9" y1="280.5" x2="151.9" y2="285.5" stroke="#1e1e1e" stroke-width="0.9" />
<line x1="150.4" y1="280.5" x2="153.4" y2="280.5" stroke="#1e1e1e" stroke-width="0.9" />
<line x1="150.4" y1="285.5" x2="153.4" y2="285.5" stroke="#1e1e1e" stroke-width="0.9" />
<line x1="156.4" y1="294.7" x2="159.6" y2="294.7" stroke="#1e1e1e" stroke-width="0.9" />
<line x1="158.0" y1="287.8" x2="158.0" y2="303.0" stroke="#1e1e1e" stroke-width="0.9" />
<line x1="156.5" y1="287.8" x2="159.5" y2="287.8" stroke="#1e1e1e" stroke-width="0.9" />
<line x1="156.5" y1="303.0" x2="159.5" y2="303.0" stroke="#1e1e1e" stroke-width="0.9" />
<line x1="163.9" y1="301.7" x2="167.1" y2="301.7" stroke="#1e1e1e" stroke-width="0.9" />
<line x1="165.5" y1="297.2" x2="165.5" y2="305.5" stroke="#1e1e1e" stroke-width="0.9" />
<line x1="164.0" y1="297.2" x2="167.0" y2="297.2" stroke="#1e1e1e" stroke-width="0.9" />
<line x1="164.0" y1="305.5" x2="167.0" y2="305.5" stroke="#1e1e1e" stroke-width="0.9" />
<line x1="174.3" y1="270.5" x2="177.5" y2="270.5" stroke="#1e1e1e" stroke-width="0.9" />
<line x1="175.9" y1="267.5" x2="175.9" y2="273.5" stroke="#1e1e1e" stroke-width="0.9" />
<line x1="174.4" y1="267.5" x2="177.4" y2="267.5" stroke="#1e1e1e" stroke-width="0.9" />
<line x1="174.4" y1="273.5" x2="177.4" y2="273.5" stroke="#1e1e1e" stroke-width="0.9" />
<line x1="181.3" y1="283.4" x2="184.5" y2="283.4" stroke="#1e1e1e" stroke-width="0.9" />
<line x1="182.9" y1="272.7" x2="182.9" y2="293.9" stroke="#1e1e1e" stroke-width="0.9" />
<line x1="181.4" y1="272.7" x2="184.4" y2="272.7" stroke="#1e1e1e" stroke-width="0.9" />
<line x1="181.4" y1="293.9" x2="184.4" y2="293.9" stroke="#1e1e1e" stroke-width="0.9" />
<line x1="187.9" y1="290.6" x2="191.1" y2="290.6" stroke="#1e1e1e" stroke-width="0.9" />
<line x1="189.5" y1="282.8" x2="189.5" y2="298.9" stroke="#1e1e1e" stroke-width="0.9" />
<line x1="188.0" y1="282.8" x2="191.0" y2="282.8" stroke="#1e1e1e" stroke-width="0.9" />
<line x1="188.0" y1="298.9" x2="191.0" y2="298.9" stroke="#1e1e1e" stroke-width="0.9" />
<polyline points="152.3,255.9 152.3,251.7 164.8,251.7 164.8,255.9" fill="none" stroke="#1e1e1e" stroke-width="1"/>
<text x="158.8" y="251.9" font-size="8.2" text-anchor="middle" font-weight="normal" letter-spacing="0.5">*</text>
<polyline points="176.7,236.8 176.7,231.8 188.6,231.8 188.6,236.8" fill="none" stroke="#1e1e1e" stroke-width="1"/>
<text x="183.2" y="232.8" font-size="8.2" text-anchor="middle" font-weight="normal" letter-spacing="0.5">*</text>
<text x="252.4" y="195.6" font-size="14" text-anchor="start" font-weight="bold" >E</text>
<line x1="296.0" y1="219.4" x2="430.8" y2="219.4" stroke="#1e1e1e" stroke-width="1.0" />
<line x1="296.0" y1="215.1" x2="296.0" y2="223.7" stroke="#1e1e1e" stroke-width="1.0" />
<line x1="333.5" y1="215.1" x2="333.5" y2="223.7" stroke="#1e1e1e" stroke-width="1.0" />
<line x1="430.8" y1="215.1" x2="430.8" y2="223.7" stroke="#1e1e1e" stroke-width="1.0" />
<text x="315.2" y="213.3" font-size="9.9" text-anchor="middle" font-weight="normal" >RK</text>
<text x="382.5" y="213.3" font-size="9.9" text-anchor="middle" font-weight="normal" >LK</text>
<line x1="291.1" y1="229.8" x2="291.1" y2="326.2" stroke="#1e1e1e" stroke-width="1.0" />
<line x1="284.5" y1="326.2" x2="291.1" y2="326.2" stroke="#1e1e1e" stroke-width="1.0" />
<text x="283.9" y="329.9" font-size="10.2" text-anchor="end" font-weight="normal" >0.0</text>
<line x1="284.5" y1="302.1" x2="291.1" y2="302.1" stroke="#1e1e1e" stroke-width="1.0" />
<text x="283.9" y="305.8" font-size="10.2" text-anchor="end" font-weight="normal" >0.1</text>
<line x1="284.5" y1="278.0" x2="291.1" y2="278.0" stroke="#1e1e1e" stroke-width="1.0" />
<text x="283.9" y="281.7" font-size="10.2" text-anchor="end" font-weight="normal" >0.2</text>
<line x1="284.5" y1="253.9" x2="291.1" y2="253.9" stroke="#1e1e1e" stroke-width="1.0" />
<text x="283.9" y="257.6" font-size="10.2" text-anchor="end" font-weight="normal" >0.3</text>
<line x1="284.5" y1="229.8" x2="291.1" y2="229.8" stroke="#1e1e1e" stroke-width="1.0" />
<text x="283.9" y="233.5" font-size="10.2" text-anchor="end" font-weight="normal" >0.4</text>
<line x1="291.1" y1="326.2" x2="435.3" y2="326.2" stroke="#1e1e1e" stroke-width="1.0" />
<line x1="302.4" y1="326.2" x2="302.4" y2="333.0" stroke="#1e1e1e" stroke-width="1.0" />
<line x1="326.7" y1="326.2" x2="326.7" y2="333.0" stroke="#1e1e1e" stroke-width="1.0" />
<line x1="351.1" y1="326.2" x2="351.1" y2="333.0" stroke="#1e1e1e" stroke-width="1.0" />
<line x1="375.4" y1="326.2" x2="375.4" y2="333.0" stroke="#1e1e1e" stroke-width="1.0" />
<line x1="399.7" y1="326.2" x2="399.7" y2="333.0" stroke="#1e1e1e" stroke-width="1.0" />
<line x1="424.0" y1="326.2" x2="424.0" y2="333.0" stroke="#1e1e1e" stroke-width="1.0" />
<text x="304.9" y="339.9" font-size="10" text-anchor="end" font-weight="normal" transform="rotate(-45 304.9 339.9)" >day 1</text>
<text x="329.2" y="339.9" font-size="10" text-anchor="end" font-weight="normal" transform="rotate(-45 329.2 339.9)" >day 2</text>
<text x="353.6" y="339.9" font-size="10" text-anchor="end" font-weight="normal" transform="rotate(-45 353.6 339.9)" >day 3</text>
<text x="377.9" y="339.9" font-size="10" text-anchor="end" font-weight="normal" transform="rotate(-45 377.9 339.9)" >day 4</text>
<text x="402.2" y="339.9" font-size="10" text-anchor="end" font-weight="normal" transform="rotate(-45 402.2 339.9)" >day 5</text>
<text x="426.5" y="339.9" font-size="10" text-anchor="end" font-weight="normal" transform="rotate(-45 426.5 339.9)" >day 6</text>
<text x="251.3" y="278.4" font-size="9.4" text-anchor="middle" font-weight="normal" transform="rotate(-90 251.3 278.4)" >cumulative K<tspan font-size="6.3" dy="-3.6">+</tspan><tspan dy="3.6"> excretion</tspan></text>
<text x="260.9" y="278.4" font-size="9.4" text-anchor="middle" font-weight="normal" transform="rotate(-90 260.9 278.4)" >(daily additive net balance, mmol)</text>
<text x="450.7" y="243.7" font-size="9.3" text-anchor="start" font-weight="normal" >+/+</text>
<text x="450.7" y="253.7" font-size="9.3" text-anchor="start" font-weight="normal" >Δ/+</text>
<text x="450.7" y="263.4" font-size="9.3" text-anchor="start" font-weight="normal" >Δ/Δ</text>
<line x1="294.2" y1="315.2" x2="297.2" y2="315.2" stroke="#1e1e1e" stroke-width="0.9" />
<line x1="295.7" y1="312.3" x2="295.7" y2="318.2" stroke="#1e1e1e" stroke-width="0.9" />
<line x1="294.2" y1="312.3" x2="297.2" y2="312.3" stroke="#1e1e1e" stroke-width="0.9" />
<line x1="294.2" y1="318.2" x2="297.2" y2="318.2" stroke="#1e1e1e" stroke-width="0.9" />
<line x1="301.4" y1="312.8" x2="304.4" y2="312.8" stroke="#1e1e1e" stroke-width="0.9" />
<line x1="302.9" y1="310.8" x2="302.9" y2="314.7" stroke="#1e1e1e" stroke-width="0.9" />
<line x1="301.4" y1="310.8" x2="304.4" y2="310.8" stroke="#1e1e1e" stroke-width="0.9" />
<line x1="301.4" y1="314.7" x2="304.4" y2="314.7" stroke="#1e1e1e" stroke-width="0.9" />
<line x1="307.8" y1="313.4" x2="310.8" y2="313.4" stroke="#1e1e1e" stroke-width="0.9" />
<line x1="309.3" y1="311.3" x2="309.3" y2="315.5" stroke="#1e1e1e" stroke-width="0.9" />
<line x1="307.8" y1="311.3" x2="310.8" y2="311.3" stroke="#1e1e1e" stroke-width="0.9" />
<line x1="307.8" y1="315.5" x2="310.8" y2="315.5" stroke="#1e1e1e" stroke-width="0.9" />
<line x1="319.0" y1="302.9" x2="322.0" y2="302.9" stroke="#1e1e1e" stroke-width="0.9" />
<line x1="320.5" y1="295.6" x2="320.5" y2="310.1" stroke="#1e1e1e" stroke-width="0.9" />
<line x1="319.0" y1="295.6" x2="322.0" y2="295.6" stroke="#1e1e1e" stroke-width="0.9" />
<line x1="319.0" y1="310.1" x2="322.0" y2="310.1" stroke="#1e1e1e" stroke-width="0.9" />
<line x1="325.2" y1="287.7" x2="328.2" y2="287.7" stroke="#1e1e1e" stroke-width="0.9" />
<line x1="326.7" y1="284.1" x2="326.7" y2="291.3" stroke="#1e1e1e" stroke-width="0.9" />
<line x1="325.2" y1="284.1" x2="328.2" y2="284.1" stroke="#1e1e1e" stroke-width="0.9" />
<line x1="325.2" y1="291.3" x2="328.2" y2="291.3" stroke="#1e1e1e" stroke-width="0.9" />
<line x1="331.9" y1="298.8" x2="334.9" y2="298.8" stroke="#1e1e1e" stroke-width="0.9" />
<line x1="333.4" y1="293.0" x2="333.4" y2="304.6" stroke="#1e1e1e" stroke-width="0.9" />
<line x1="331.9" y1="293.0" x2="334.9" y2="293.0" stroke="#1e1e1e" stroke-width="0.9" />
<line x1="331.9" y1="304.6" x2="334.9" y2="304.6" stroke="#1e1e1e" stroke-width="0.9" />
<line x1="343.1" y1="294.5" x2="346.1" y2="294.5" stroke="#1e1e1e" stroke-width="0.9" />
<line x1="344.6" y1="289.3" x2="344.6" y2="299.6" stroke="#1e1e1e" stroke-width="0.9" />
<line x1="343.1" y1="289.3" x2="346.1" y2="289.3" stroke="#1e1e1e" stroke-width="0.9" />
<line x1="343.1" y1="299.6" x2="346.1" y2="299.6" stroke="#1e1e1e" stroke-width="0.9" />
<line x1="349.8" y1="280.6" x2="352.8" y2="280.6" stroke="#1e1e1e" stroke-width="0.9" />
<line x1="351.3" y1="276.4" x2="351.3" y2="284.9" stroke="#1e1e1e" stroke-width="0.9" />
<line x1="349.8" y1="276.4" x2="352.8" y2="276.4" stroke="#1e1e1e" stroke-width="0.9" />
<line x1="349.8" y1="284.9" x2="352.8" y2="284.9" stroke="#1e1e1e" stroke-width="0.9" />
<line x1="356.3" y1="291.3" x2="359.3" y2="291.3" stroke="#1e1e1e" stroke-width="0.9" />
<line x1="357.8" y1="285.3" x2="357.8" y2="297.2" stroke="#1e1e1e" stroke-width="0.9" />
<line x1="356.3" y1="285.3" x2="359.3" y2="285.3" stroke="#1e1e1e" stroke-width="0.9" />
<line x1="356.3" y1="297.2" x2="359.3" y2="297.2" stroke="#1e1e1e" stroke-width="0.9" />
<line x1="367.5" y1="292.2" x2="370.5" y2="292.2" stroke="#1e1e1e" stroke-width="0.9" />
<line x1="369.0" y1="285.9" x2="369.0" y2="298.5" stroke="#1e1e1e" stroke-width="0.9" />
<line x1="367.5" y1="285.9" x2="370.5" y2="285.9" stroke="#1e1e1e" stroke-width="0.9" />
<line x1="367.5" y1="298.5" x2="370.5" y2="298.5" stroke="#1e1e1e" stroke-width="0.9" />
<line x1="374.2" y1="278.6" x2="377.2" y2="278.6" stroke="#1e1e1e" stroke-width="0.9" />
<line x1="375.7" y1="274.0" x2="375.7" y2="283.1" stroke="#1e1e1e" stroke-width="0.9" />
<line x1="374.2" y1="274.0" x2="377.2" y2="274.0" stroke="#1e1e1e" stroke-width="0.9" />
<line x1="374.2" y1="283.1" x2="377.2" y2="283.1" stroke="#1e1e1e" stroke-width="0.9" />
<line x1="380.9" y1="290.6" x2="383.9" y2="290.6" stroke="#1e1e1e" stroke-width="0.9" />
<line x1="382.4" y1="285.8" x2="382.4" y2="295.5" stroke="#1e1e1e" stroke-width="0.9" />
<line x1="380.9" y1="285.8" x2="383.9" y2="285.8" stroke="#1e1e1e" stroke-width="0.9" />
<line x1="380.9" y1="295.5" x2="383.9" y2="295.5" stroke="#1e1e1e" stroke-width="0.9" />
<line x1="391.6" y1="291.8" x2="394.6" y2="291.8" stroke="#1e1e1e" stroke-width="0.9" />
<line x1="393.1" y1="285.5" x2="393.1" y2="298.1" stroke="#1e1e1e" stroke-width="0.9" />
<line x1="391.6" y1="285.5" x2="394.6" y2="285.5" stroke="#1e1e1e" stroke-width="0.9" />
<line x1="391.6" y1="298.1" x2="394.6" y2="298.1" stroke="#1e1e1e" stroke-width="0.9" />
<line x1="398.3" y1="277.4" x2="401.3" y2="277.4" stroke="#1e1e1e" stroke-width="0.9" />
<line x1="399.8" y1="272.4" x2="399.8" y2="282.4" stroke="#1e1e1e" stroke-width="0.9" />
<line x1="398.3" y1="272.4" x2="401.3" y2="272.4" stroke="#1e1e1e" stroke-width="0.9" />
<line x1="398.3" y1="282.4" x2="401.3" y2="282.4" stroke="#1e1e1e" stroke-width="0.9" />
<line x1="405.2" y1="289.7" x2="408.2" y2="289.7" stroke="#1e1e1e" stroke-width="0.9" />
<line x1="406.7" y1="283.8" x2="406.7" y2="295.6" stroke="#1e1e1e" stroke-width="0.9" />
<line x1="405.2" y1="283.8" x2="408.2" y2="283.8" stroke="#1e1e1e" stroke-width="0.9" />
<line x1="405.2" y1="295.6" x2="408.2" y2="295.6" stroke="#1e1e1e" stroke-width="0.9" />
<line x1="416.4" y1="291.7" x2="419.4" y2="291.7" stroke="#1e1e1e" stroke-width="0.9" />
<line x1="417.9" y1="285.6" x2="417.9" y2="297.8" stroke="#1e1e1e" stroke-width="0.9" />
<line x1="416.4" y1="285.6" x2="419.4" y2="285.6" stroke="#1e1e1e" stroke-width="0.9" />
<line x1="416.4" y1="297.8" x2="419.4" y2="297.8" stroke="#1e1e1e" stroke-width="0.9" />
<line x1="422.6" y1="276.3" x2="425.6" y2="276.3" stroke="#1e1e1e" stroke-width="0.9" />
<line x1="424.1" y1="271.0" x2="424.1" y2="281.6" stroke="#1e1e1e" stroke-width="0.9" />
<line x1="422.6" y1="271.0" x2="425.6" y2="271.0" stroke="#1e1e1e" stroke-width="0.9" />
<line x1="422.6" y1="281.6" x2="425.6" y2="281.6" stroke="#1e1e1e" stroke-width="0.9" />
<line x1="429.6" y1="288.4" x2="432.6" y2="288.4" stroke="#1e1e1e" stroke-width="0.9" />
<line x1="431.1" y1="282.8" x2="431.1" y2="294.1" stroke="#1e1e1e" stroke-width="0.9" />
<line x1="429.6" y1="282.8" x2="432.6" y2="282.8" stroke="#1e1e1e" stroke-width="0.9" />
<line x1="429.6" y1="294.1" x2="432.6" y2="294.1" stroke="#1e1e1e" stroke-width="0.9" />
<text x="492.6" y="195.8" font-size="14" text-anchor="start" font-weight="bold" >F</text>
<line x1="541.0" y1="230.0" x2="541.0" y2="326.3" stroke="#1e1e1e" stroke-width="1.0" />
<line x1="534.4" y1="326.3" x2="541.0" y2="326.3" stroke="#1e1e1e" stroke-width="1.0" />
<text x="533.8" y="330.1" font-size="10.5" text-anchor="end" font-weight="normal" >0</text>
<line x1="534.4" y1="302.2" x2="541.0" y2="302.2" stroke="#1e1e1e" stroke-width="1.0" />
<text x="533.8" y="306.0" font-size="10.5" text-anchor="end" font-weight="normal" >2</text>
<line x1="534.4" y1="278.2" x2="541.0" y2="278.2" stroke="#1e1e1e" stroke-width="1.0" />
<text x="533.8" y="281.9" font-size="10.5" text-anchor="end" font-weight="normal" >4</text>
<line x1="534.4" y1="254.1" x2="541.0" y2="254.1" stroke="#1e1e1e" stroke-width="1.0" />
<text x="533.8" y="257.9" font-size="10.5" text-anchor="end" font-weight="normal" >6</text>
<line x1="534.4" y1="230.0" x2="541.0" y2="230.0" stroke="#1e1e1e" stroke-width="1.0" />
<text x="533.8" y="233.8" font-size="10.5" text-anchor="end" font-weight="normal" >8</text>
<line x1="541.0" y1="326.3" x2="684.5" y2="326.3" stroke="#1e1e1e" stroke-width="1.0" />
<line x1="569.1" y1="326.3" x2="569.1" y2="333.1" stroke="#1e1e1e" stroke-width="1.0" />
<line x1="612.5" y1="326.3" x2="612.5" y2="333.1" stroke="#1e1e1e" stroke-width="1.0" />
<line x1="655.6" y1="326.3" x2="655.6" y2="333.1" stroke="#1e1e1e" stroke-width="1.0" />
<text x="571.6" y="340.0" font-size="10" text-anchor="end" font-weight="normal" transform="rotate(-45 571.6 340.0)" >+/+</text>
<text x="615.0" y="340.0" font-size="10" text-anchor="end" font-weight="normal" transform="rotate(-45 615.0 340.0)" >Δ/+</text>
<text x="658.1" y="340.0" font-size="10" text-anchor="end" font-weight="normal" transform="rotate(-45 658.1 340.0)" >Δ/Δ</text>
<text x="507.0" y="279.0" font-size="9.3" text-anchor="middle" font-weight="normal" transform="rotate(-90 507.0 279.0)" >urinary pH</text>
<polyline points="568.5,235.4 568.5,228.9 656.0,228.9 656.0,235.4" fill="none" stroke="#1e1e1e" stroke-width="1"/>
<text x="611.0" y="227.0" font-size="8.2" text-anchor="middle" font-weight="normal" letter-spacing="0.5">*</text>
<line x1="555.2" y1="250.4" x2="583.8" y2="250.4" stroke="#1e1e1e" stroke-width="1.1" />
<line x1="569.5" y1="248.3" x2="569.5" y2="252.2" stroke="#1e1e1e" stroke-width="1.1" />
<line x1="562.3" y1="248.3" x2="576.7" y2="248.3" stroke="#1e1e1e" stroke-width="1.1" />
<line x1="562.3" y1="252.2" x2="576.7" y2="252.2" stroke="#1e1e1e" stroke-width="1.1" />
<line x1="598.1" y1="261.6" x2="626.7" y2="261.6" stroke="#1e1e1e" stroke-width="1.1" />
<line x1="612.4" y1="257.3" x2="612.4" y2="266.1" stroke="#1e1e1e" stroke-width="1.1" />
<line x1="605.2" y1="257.3" x2="619.6" y2="257.3" stroke="#1e1e1e" stroke-width="1.1" />
<line x1="605.2" y1="266.1" x2="619.6" y2="266.1" stroke="#1e1e1e" stroke-width="1.1" />
<line x1="641.3" y1="265.1" x2="669.9" y2="265.1" stroke="#1e1e1e" stroke-width="1.1" />
<line x1="655.6" y1="261.6" x2="655.6" y2="268.5" stroke="#1e1e1e" stroke-width="1.1" />
<line x1="648.4" y1="261.6" x2="662.8" y2="261.6" stroke="#1e1e1e" stroke-width="1.1" />
<line x1="648.4" y1="268.5" x2="662.8" y2="268.5" stroke="#1e1e1e" stroke-width="1.1" />
<text x="12.6" y="375.2" font-size="14" text-anchor="start" font-weight="bold" >G</text>
<line x1="49.9" y1="416.7" x2="49.9" y2="513.2" stroke="#1e1e1e" stroke-width="1.0" />
<line x1="43.3" y1="513.2" x2="49.9" y2="513.2" stroke="#1e1e1e" stroke-width="1.0" />
<text x="42.7" y="517.0" font-size="10.5" text-anchor="end" font-weight="normal" >0</text>
<line x1="43.3" y1="489.1" x2="49.9" y2="489.1" stroke="#1e1e1e" stroke-width="1.0" />
<text x="42.7" y="492.9" font-size="10.5" text-anchor="end" font-weight="normal" >10</text>
<line x1="43.3" y1="465.0" x2="49.9" y2="465.0" stroke="#1e1e1e" stroke-width="1.0" />
<text x="42.7" y="468.7" font-size="10.5" text-anchor="end" font-weight="normal" >20</text>
<line x1="43.3" y1="440.8" x2="49.9" y2="440.8" stroke="#1e1e1e" stroke-width="1.0" />
<text x="42.7" y="444.6" font-size="10.5" text-anchor="end" font-weight="normal" >30</text>
<line x1="43.3" y1="416.7" x2="49.9" y2="416.7" stroke="#1e1e1e" stroke-width="1.0" />
<text x="42.7" y="420.5" font-size="10.5" text-anchor="end" font-weight="normal" >40</text>
<line x1="49.9" y1="513.2" x2="192.9" y2="513.2" stroke="#1e1e1e" stroke-width="1.0" />
<line x1="78.2" y1="513.2" x2="78.2" y2="520.0" stroke="#1e1e1e" stroke-width="1.0" />
<line x1="121.3" y1="513.2" x2="121.3" y2="520.0" stroke="#1e1e1e" stroke-width="1.0" />
<line x1="164.5" y1="513.2" x2="164.5" y2="520.0" stroke="#1e1e1e" stroke-width="1.0" />
<text x="80.7" y="526.9" font-size="10" text-anchor="end" font-weight="normal" transform="rotate(-45 80.7 526.9)" >+/+</text>
<text x="123.8" y="526.9" font-size="10" text-anchor="end" font-weight="normal" transform="rotate(-45 123.8 526.9)" >Δ/+</text>
<text x="167.0" y="526.9" font-size="10" text-anchor="end" font-weight="normal" transform="rotate(-45 167.0 526.9)" >Δ/Δ</text>
<text x="20.0" y="466.0" font-size="9.3" text-anchor="middle" font-weight="normal" transform="rotate(-90 20.0 466.0)" >urinary Ca<tspan font-size="6" dy="-3.5">2+</tspan><tspan dy="3.5"> excretion (µmol/24h)</tspan></text>
<polyline points="77.2,419.0 77.2,412.4 164.5,412.4 164.5,419.0" fill="none" stroke="#1e1e1e" stroke-width="1"/>
<text x="122.0" y="411.4" font-size="8.2" text-anchor="middle" font-weight="normal" letter-spacing="0.5">**</text>
<polyline points="77.2,433.6 77.2,426.9 121.7,426.9 121.7,433.6" fill="none" stroke="#1e1e1e" stroke-width="1"/>
<text x="99.8" y="426.4" font-size="8.2" text-anchor="middle" font-weight="normal" letter-spacing="0.5">*</text>
<line x1="64.0" y1="462.4" x2="92.6" y2="462.4" stroke="#1e1e1e" stroke-width="1.1" />
<line x1="78.3" y1="453.9" x2="78.3" y2="470.2" stroke="#1e1e1e" stroke-width="1.1" />
<line x1="71.1" y1="453.9" x2="85.5" y2="453.9" stroke="#1e1e1e" stroke-width="1.1" />
<line x1="71.1" y1="470.2" x2="85.5" y2="470.2" stroke="#1e1e1e" stroke-width="1.1" />
<line x1="107.0" y1="484.4" x2="135.6" y2="484.4" stroke="#1e1e1e" stroke-width="1.1" />
<line x1="121.3" y1="480.8" x2="121.3" y2="487.8" stroke="#1e1e1e" stroke-width="1.1" />
<line x1="114.1" y1="480.8" x2="128.5" y2="480.8" stroke="#1e1e1e" stroke-width="1.1" />
<line x1="114.1" y1="487.8" x2="128.5" y2="487.8" stroke="#1e1e1e" stroke-width="1.1" />
<line x1="150.2" y1="492.0" x2="178.8" y2="492.0" stroke="#1e1e1e" stroke-width="1.1" />
<line x1="164.5" y1="489.3" x2="164.5" y2="495.2" stroke="#1e1e1e" stroke-width="1.1" />
<line x1="157.3" y1="489.3" x2="171.7" y2="489.3" stroke="#1e1e1e" stroke-width="1.1" />
<line x1="157.3" y1="495.2" x2="171.7" y2="495.2" stroke="#1e1e1e" stroke-width="1.1" />
<text x="252.0" y="376.2" font-size="14" text-anchor="start" font-weight="bold" >H</text>
<line x1="291.4" y1="416.4" x2="291.4" y2="512.5" stroke="#1e1e1e" stroke-width="1.0" />
<line x1="284.8" y1="512.5" x2="291.4" y2="512.5" stroke="#1e1e1e" stroke-width="1.0" />
<text x="284.2" y="516.3" font-size="10.5" text-anchor="end" font-weight="normal" >0</text>
<line x1="284.8" y1="488.5" x2="291.4" y2="488.5" stroke="#1e1e1e" stroke-width="1.0" />
<text x="284.2" y="492.2" font-size="10.5" text-anchor="end" font-weight="normal" >1</text>
<line x1="284.8" y1="464.4" x2="291.4" y2="464.4" stroke="#1e1e1e" stroke-width="1.0" />
<text x="284.2" y="468.2" font-size="10.5" text-anchor="end" font-weight="normal" >2</text>
<line x1="284.8" y1="440.4" x2="291.4" y2="440.4" stroke="#1e1e1e" stroke-width="1.0" />
<text x="284.2" y="444.2" font-size="10.5" text-anchor="end" font-weight="normal" >3</text>
<line x1="284.8" y1="416.4" x2="291.4" y2="416.4" stroke="#1e1e1e" stroke-width="1.0" />
<text x="284.2" y="420.2" font-size="10.5" text-anchor="end" font-weight="normal" >4</text>
<line x1="291.4" y1="512.5" x2="434.4" y2="512.5" stroke="#1e1e1e" stroke-width="1.0" />
<line x1="319.4" y1="512.5" x2="319.4" y2="519.3" stroke="#1e1e1e" stroke-width="1.0" />
<line x1="362.8" y1="512.5" x2="362.8" y2="519.3" stroke="#1e1e1e" stroke-width="1.0" />
<line x1="406.4" y1="512.5" x2="406.4" y2="519.3" stroke="#1e1e1e" stroke-width="1.0" />
<text x="321.9" y="526.2" font-size="10" text-anchor="end" font-weight="normal" transform="rotate(-45 321.9 526.2)" >+/+</text>
<text x="365.3" y="526.2" font-size="10" text-anchor="end" font-weight="normal" transform="rotate(-45 365.3 526.2)" >Δ/+</text>
<text x="408.9" y="526.2" font-size="10" text-anchor="end" font-weight="normal" transform="rotate(-45 408.9 526.2)" >Δ/Δ</text>
<text x="261.6" y="464.2" font-size="9.6" text-anchor="middle" font-weight="normal" transform="rotate(-90 261.6 464.2)" >urinary phosphate excretion (mg/24h)</text>
<polyline points="319.5,411.0 319.5,404.3 406.4,404.3 406.4,411.0" fill="none" stroke="#1e1e1e" stroke-width="1"/>
<text x="363.6" y="403.4" font-size="8.2" text-anchor="middle" font-weight="normal" letter-spacing="0.5">**</text>
<polyline points="319.5,425.4 319.5,419.2 363.5,419.2 363.5,425.4" fill="none" stroke="#1e1e1e" stroke-width="1"/>
<text x="341.9" y="418.3" font-size="8.2" text-anchor="middle" font-weight="normal" letter-spacing="0.5">*</text>
<line x1="305.2" y1="449.9" x2="333.8" y2="449.9" stroke="#1e1e1e" stroke-width="1.1" />
<line x1="319.5" y1="444.6" x2="319.5" y2="455.4" stroke="#1e1e1e" stroke-width="1.1" />
<line x1="312.3" y1="444.6" x2="326.7" y2="444.6" stroke="#1e1e1e" stroke-width="1.1" />
<line x1="312.3" y1="455.4" x2="326.7" y2="455.4" stroke="#1e1e1e" stroke-width="1.1" />
<line x1="348.5" y1="472.4" x2="377.1" y2="472.4" stroke="#1e1e1e" stroke-width="1.1" />
<line x1="362.8" y1="467.7" x2="362.8" y2="477.3" stroke="#1e1e1e" stroke-width="1.1" />
<line x1="355.6" y1="467.7" x2="370.0" y2="467.7" stroke="#1e1e1e" stroke-width="1.1" />
<line x1="355.6" y1="477.3" x2="370.0" y2="477.3" stroke="#1e1e1e" stroke-width="1.1" />
<line x1="391.7" y1="480.3" x2="420.3" y2="480.3" stroke="#1e1e1e" stroke-width="1.1" />
<line x1="406.0" y1="475.8" x2="406.0" y2="484.4" stroke="#1e1e1e" stroke-width="1.1" />
<line x1="398.8" y1="475.8" x2="413.2" y2="475.8" stroke="#1e1e1e" stroke-width="1.1" />
<line x1="398.8" y1="484.4" x2="413.2" y2="484.4" stroke="#1e1e1e" stroke-width="1.1" />
<circle cx="204.5" cy="55.6" r="2.05" fill="#fff" stroke="#1e1e1e" stroke-width="1.1"/>
<circle cx="204.5" cy="65.8" r="1.95" fill="#8f8f8f" stroke="#3a3a3a" stroke-width="1.1"/>
<circle cx="204.5" cy="75.3" r="2.4" fill="#000"/>
<circle cx="53.6" cy="68.9" r="1.85" fill="#fff" stroke="#1e1e1e" stroke-width="0.8"/>
<circle cx="55.0" cy="68.9" r="1.85" fill="#fff" stroke="#1e1e1e" stroke-width="0.8"/>
<circle cx="59.5" cy="69.0" r="1.70" fill="#8f8f8f" stroke="#3a3a3a" stroke-width="0.8"/>
<circle cx="64.6" cy="69.0" r="1.95" fill="#000"/>
<circle cx="66.0" cy="69.0" r="1.95" fill="#000"/>
<circle cx="74.6" cy="72.8" r="1.85" fill="#fff" stroke="#1e1e1e" stroke-width="0.8"/>
<circle cx="74.6" cy="78.2" r="1.85" fill="#fff" stroke="#1e1e1e" stroke-width="0.8"/>
<circle cx="74.6" cy="80.7" r="1.85" fill="#fff" stroke="#1e1e1e" stroke-width="0.8"/>
<circle cx="74.6" cy="83.6" r="1.85" fill="#fff" stroke="#1e1e1e" stroke-width="0.8"/>
<circle cx="74.6" cy="86.5" r="1.85" fill="#fff" stroke="#1e1e1e" stroke-width="0.8"/>
<circle cx="74.6" cy="93.1" r="1.85" fill="#fff" stroke="#1e1e1e" stroke-width="0.8"/>
<circle cx="80.3" cy="66.2" r="1.70" fill="#8f8f8f" stroke="#3a3a3a" stroke-width="0.8"/>
<circle cx="80.3" cy="69.1" r="1.70" fill="#8f8f8f" stroke="#3a3a3a" stroke-width="0.8"/>
<circle cx="80.3" cy="71.6" r="1.70" fill="#8f8f8f" stroke="#3a3a3a" stroke-width="0.8"/>
<circle cx="80.3" cy="74.5" r="1.70" fill="#8f8f8f" stroke="#3a3a3a" stroke-width="0.8"/>
<circle cx="80.3" cy="77.0" r="1.70" fill="#8f8f8f" stroke="#3a3a3a" stroke-width="0.8"/>
<circle cx="80.3" cy="80.7" r="1.70" fill="#8f8f8f" stroke="#3a3a3a" stroke-width="0.8"/>
<circle cx="80.3" cy="83.2" r="1.70" fill="#8f8f8f" stroke="#3a3a3a" stroke-width="0.8"/>
<circle cx="86.1" cy="69.9" r="1.95" fill="#000"/>
<circle cx="86.1" cy="72.0" r="1.95" fill="#000"/>
<circle cx="86.1" cy="73.3" r="1.95" fill="#000"/>
<circle cx="86.1" cy="77.8" r="1.95" fill="#000"/>
<circle cx="86.1" cy="86.9" r="1.95" fill="#000"/>
<circle cx="95.3" cy="68.7" r="1.85" fill="#fff" stroke="#1e1e1e" stroke-width="0.8"/>
<circle cx="95.3" cy="73.3" r="1.85" fill="#fff" stroke="#1e1e1e" stroke-width="0.8"/>
<circle cx="95.3" cy="76.2" r="1.85" fill="#fff" stroke="#1e1e1e" stroke-width="0.8"/>
<circle cx="95.3" cy="86.9" r="1.85" fill="#fff" stroke="#1e1e1e" stroke-width="0.8"/>
<circle cx="95.3" cy="100.6" r="1.85" fill="#fff" stroke="#1e1e1e" stroke-width="0.8"/>
<circle cx="101.1" cy="56.4" r="1.70" fill="#8f8f8f" stroke="#3a3a3a" stroke-width="0.8"/>
<circle cx="101.1" cy="69.9" r="1.70" fill="#8f8f8f" stroke="#3a3a3a" stroke-width="0.8"/>
<circle cx="101.1" cy="73.7" r="1.70" fill="#8f8f8f" stroke="#3a3a3a" stroke-width="0.8"/>
<circle cx="101.1" cy="78.2" r="1.70" fill="#8f8f8f" stroke="#3a3a3a" stroke-width="0.8"/>
<circle cx="101.1" cy="86.9" r="1.70" fill="#8f8f8f" stroke="#3a3a3a" stroke-width="0.8"/>
<circle cx="106.5" cy="65.4" r="1.95" fill="#000"/>
<circle cx="106.5" cy="68.3" r="1.95" fill="#000"/>
<circle cx="106.5" cy="73.3" r="1.95" fill="#000"/>
<circle cx="106.5" cy="81.5" r="1.95" fill="#000"/>
<circle cx="106.5" cy="98.9" r="1.95" fill="#000"/>
<circle cx="116.0" cy="75.8" r="1.85" fill="#fff" stroke="#1e1e1e" stroke-width="0.8"/>
<circle cx="116.0" cy="84.5" r="1.85" fill="#fff" stroke="#1e1e1e" stroke-width="0.8"/>
<circle cx="116.0" cy="89.9" r="1.85" fill="#fff" stroke="#1e1e1e" stroke-width="0.8"/>
<circle cx="116.0" cy="92.0" r="1.85" fill="#fff" stroke="#1e1e1e" stroke-width="0.8"/>
<circle cx="116.0" cy="94.9" r="1.85" fill="#fff" stroke="#1e1e1e" stroke-width="0.8"/>
<circle cx="116.0" cy="101.9" r="1.85" fill="#fff" stroke="#1e1e1e" stroke-width="0.8"/>
<circle cx="121.8" cy="77.5" r="1.70" fill="#8f8f8f" stroke="#3a3a3a" stroke-width="0.8"/>
<circle cx="121.8" cy="81.2" r="1.70" fill="#8f8f8f" stroke="#3a3a3a" stroke-width="0.8"/>
<circle cx="121.8" cy="89.1" r="1.70" fill="#8f8f8f" stroke="#3a3a3a" stroke-width="0.8"/>
<circle cx="121.8" cy="91.1" r="1.70" fill="#8f8f8f" stroke="#3a3a3a" stroke-width="0.8"/>
<circle cx="121.8" cy="92.8" r="1.70" fill="#8f8f8f" stroke="#3a3a3a" stroke-width="0.8"/>
<circle cx="121.8" cy="99.4" r="1.70" fill="#8f8f8f" stroke="#3a3a3a" stroke-width="0.8"/>
<circle cx="121.8" cy="105.6" r="1.70" fill="#8f8f8f" stroke="#3a3a3a" stroke-width="0.8"/>
<circle cx="127.4" cy="83.3" r="1.95" fill="#000"/>
<circle cx="127.4" cy="87.0" r="1.95" fill="#000"/>
<circle cx="127.4" cy="88.6" r="1.95" fill="#000"/>
<circle cx="127.4" cy="89.9" r="1.95" fill="#000"/>
<circle cx="127.4" cy="94.9" r="1.95" fill="#000"/>
<circle cx="127.4" cy="102.7" r="1.95" fill="#000"/>
<circle cx="136.7" cy="84.9" r="1.85" fill="#fff" stroke="#1e1e1e" stroke-width="0.8"/>
<circle cx="136.7" cy="86.2" r="1.85" fill="#fff" stroke="#1e1e1e" stroke-width="0.8"/>
<circle cx="136.7" cy="97.8" r="1.85" fill="#fff" stroke="#1e1e1e" stroke-width="0.8"/>
<circle cx="136.7" cy="109.8" r="1.85" fill="#fff" stroke="#1e1e1e" stroke-width="0.8"/>
<circle cx="142.3" cy="84.9" r="1.70" fill="#8f8f8f" stroke="#3a3a3a" stroke-width="0.8"/>
<circle cx="142.3" cy="98.6" r="1.70" fill="#8f8f8f" stroke="#3a3a3a" stroke-width="0.8"/>
<circle cx="142.3" cy="99.8" r="1.70" fill="#8f8f8f" stroke="#3a3a3a" stroke-width="0.8"/>
<circle cx="142.3" cy="105.2" r="1.70" fill="#8f8f8f" stroke="#3a3a3a" stroke-width="0.8"/>
<circle cx="142.3" cy="111.0" r="1.70" fill="#8f8f8f" stroke="#3a3a3a" stroke-width="0.8"/>
<circle cx="147.9" cy="87.4" r="1.95" fill="#000"/>
<circle cx="147.9" cy="92.4" r="1.95" fill="#000"/>
<circle cx="147.9" cy="94.0" r="1.95" fill="#000"/>
<circle cx="147.9" cy="97.3" r="1.95" fill="#000"/>
<circle cx="147.9" cy="101.9" r="1.95" fill="#000"/>
<circle cx="147.9" cy="111.8" r="1.95" fill="#000"/>
<circle cx="157.4" cy="87.9" r="1.85" fill="#fff" stroke="#1e1e1e" stroke-width="0.8"/>
<circle cx="157.4" cy="99.8" r="1.85" fill="#fff" stroke="#1e1e1e" stroke-width="0.8"/>
<circle cx="157.4" cy="102.4" r="1.85" fill="#fff" stroke="#1e1e1e" stroke-width="0.8"/>
<circle cx="157.4" cy="105.6" r="1.85" fill="#fff" stroke="#1e1e1e" stroke-width="0.8"/>
<circle cx="157.4" cy="115.3" r="1.85" fill="#fff" stroke="#1e1e1e" stroke-width="0.8"/>
<circle cx="158.4" cy="87.9" r="1.85" fill="#fff" stroke="#1e1e1e" stroke-width="0.8"/>
<circle cx="163.2" cy="94.7" r="1.70" fill="#8f8f8f" stroke="#3a3a3a" stroke-width="0.8"/>
<circle cx="163.2" cy="102.4" r="1.70" fill="#8f8f8f" stroke="#3a3a3a" stroke-width="0.8"/>
<circle cx="163.2" cy="105.6" r="1.70" fill="#8f8f8f" stroke="#3a3a3a" stroke-width="0.8"/>
<circle cx="163.2" cy="115.3" r="1.70" fill="#8f8f8f" stroke="#3a3a3a" stroke-width="0.8"/>
<circle cx="164.2" cy="94.7" r="1.70" fill="#8f8f8f" stroke="#3a3a3a" stroke-width="0.8"/>
<circle cx="164.2" cy="114.6" r="1.70" fill="#8f8f8f" stroke="#3a3a3a" stroke-width="0.8"/>
<circle cx="168.7" cy="94.7" r="1.95" fill="#000"/>
<circle cx="168.7" cy="98.5" r="1.95" fill="#000"/>
<circle cx="168.7" cy="102.4" r="1.95" fill="#000"/>
<circle cx="168.7" cy="105.6" r="1.95" fill="#000"/>
<circle cx="168.7" cy="109.2" r="1.95" fill="#000"/>
<circle cx="168.7" cy="116.0" r="1.95" fill="#000"/>
<circle cx="178.0" cy="89.5" r="1.85" fill="#fff" stroke="#1e1e1e" stroke-width="0.8"/>
<circle cx="178.0" cy="91.9" r="1.85" fill="#fff" stroke="#1e1e1e" stroke-width="0.8"/>
<circle cx="178.0" cy="104.0" r="1.85" fill="#fff" stroke="#1e1e1e" stroke-width="0.8"/>
<circle cx="178.0" cy="106.4" r="1.85" fill="#fff" stroke="#1e1e1e" stroke-width="0.8"/>
<circle cx="178.0" cy="119.7" r="1.85" fill="#fff" stroke="#1e1e1e" stroke-width="0.8"/>
<circle cx="184.1" cy="94.4" r="1.70" fill="#8f8f8f" stroke="#3a3a3a" stroke-width="0.8"/>
<circle cx="184.1" cy="104.4" r="1.70" fill="#8f8f8f" stroke="#3a3a3a" stroke-width="0.8"/>
<circle cx="184.1" cy="106.0" r="1.70" fill="#8f8f8f" stroke="#3a3a3a" stroke-width="0.8"/>
<circle cx="184.1" cy="107.7" r="1.70" fill="#8f8f8f" stroke="#3a3a3a" stroke-width="0.8"/>
<circle cx="184.1" cy="115.6" r="1.70" fill="#8f8f8f" stroke="#3a3a3a" stroke-width="0.8"/>
<circle cx="184.1" cy="118.9" r="1.70" fill="#8f8f8f" stroke="#3a3a3a" stroke-width="0.8"/>
<circle cx="189.7" cy="99.0" r="1.95" fill="#000"/>
<circle cx="189.7" cy="104.4" r="1.95" fill="#000"/>
<circle cx="189.7" cy="105.6" r="1.95" fill="#000"/>
<circle cx="189.7" cy="111.8" r="1.95" fill="#000"/>
<circle cx="189.7" cy="123.8" r="1.95" fill="#000"/>
<circle cx="444.4" cy="55.2" r="2.05" fill="#fff" stroke="#1e1e1e" stroke-width="1.1"/>
<circle cx="444.4" cy="65.8" r="1.95" fill="#8f8f8f" stroke="#3a3a3a" stroke-width="1.1"/>
<circle cx="444.4" cy="75.6" r="2.4" fill="#000"/>
<circle cx="296.0" cy="115.8" r="1.85" fill="#fff" stroke="#1e1e1e" stroke-width="0.8"/>
<circle cx="296.0" cy="117.2" r="1.85" fill="#fff" stroke="#1e1e1e" stroke-width="0.8"/>
<circle cx="296.0" cy="120.6" r="1.85" fill="#fff" stroke="#1e1e1e" stroke-width="0.8"/>
<circle cx="296.0" cy="123.5" r="1.85" fill="#fff" stroke="#1e1e1e" stroke-width="0.8"/>
<circle cx="296.0" cy="127.2" r="1.85" fill="#fff" stroke="#1e1e1e" stroke-width="0.8"/>
<circle cx="296.0" cy="131.9" r="1.85" fill="#fff" stroke="#1e1e1e" stroke-width="0.8"/>
<circle cx="302.8" cy="119.1" r="1.70" fill="#8f8f8f" stroke="#3a3a3a" stroke-width="0.8"/>
<circle cx="302.8" cy="121.7" r="1.70" fill="#8f8f8f" stroke="#3a3a3a" stroke-width="0.8"/>
<circle cx="302.8" cy="123.5" r="1.70" fill="#8f8f8f" stroke="#3a3a3a" stroke-width="0.8"/>
<circle cx="302.8" cy="129.7" r="1.70" fill="#8f8f8f" stroke="#3a3a3a" stroke-width="0.8"/>
<circle cx="309.3" cy="115.5" r="1.95" fill="#000"/>
<circle cx="309.3" cy="118.8" r="1.95" fill="#000"/>
<circle cx="309.3" cy="120.2" r="1.95" fill="#000"/>
<circle cx="309.3" cy="130.4" r="1.95" fill="#000"/>
<circle cx="320.3" cy="118.0" r="1.85" fill="#fff" stroke="#1e1e1e" stroke-width="0.8"/>
<circle cx="320.3" cy="123.1" r="1.85" fill="#fff" stroke="#1e1e1e" stroke-width="0.8"/>
<circle cx="320.3" cy="126.8" r="1.85" fill="#fff" stroke="#1e1e1e" stroke-width="0.8"/>
<circle cx="320.3" cy="129.0" r="1.85" fill="#fff" stroke="#1e1e1e" stroke-width="0.8"/>
<circle cx="320.3" cy="131.9" r="1.85" fill="#fff" stroke="#1e1e1e" stroke-width="0.8"/>
<circle cx="326.9" cy="122.8" r="1.70" fill="#8f8f8f" stroke="#3a3a3a" stroke-width="0.8"/>
<circle cx="326.9" cy="124.6" r="1.70" fill="#8f8f8f" stroke="#3a3a3a" stroke-width="0.8"/>
<circle cx="326.9" cy="125.7" r="1.70" fill="#8f8f8f" stroke="#3a3a3a" stroke-width="0.8"/>
<circle cx="326.9" cy="127.9" r="1.70" fill="#8f8f8f" stroke="#3a3a3a" stroke-width="0.8"/>
<circle cx="333.6" cy="118.0" r="1.95" fill="#000"/>
<circle cx="333.6" cy="120.2" r="1.95" fill="#000"/>
<circle cx="333.6" cy="122.4" r="1.95" fill="#000"/>
<circle cx="333.6" cy="124.6" r="1.95" fill="#000"/>
<circle cx="333.6" cy="126.4" r="1.95" fill="#000"/>
<circle cx="333.6" cy="133.7" r="1.95" fill="#000"/>
<circle cx="345.0" cy="65.5" r="1.85" fill="#fff" stroke="#1e1e1e" stroke-width="0.8"/>
<circle cx="345.0" cy="75.4" r="1.85" fill="#fff" stroke="#1e1e1e" stroke-width="0.8"/>
<circle cx="345.0" cy="92.6" r="1.85" fill="#fff" stroke="#1e1e1e" stroke-width="0.8"/>
<circle cx="345.0" cy="102.9" r="1.85" fill="#fff" stroke="#1e1e1e" stroke-width="0.8"/>
<circle cx="345.0" cy="119.3" r="1.85" fill="#fff" stroke="#1e1e1e" stroke-width="0.8"/>
<circle cx="351.2" cy="103.9" r="1.70" fill="#8f8f8f" stroke="#3a3a3a" stroke-width="0.8"/>
<circle cx="351.2" cy="106.8" r="1.70" fill="#8f8f8f" stroke="#3a3a3a" stroke-width="0.8"/>
<circle cx="351.2" cy="111.8" r="1.70" fill="#8f8f8f" stroke="#3a3a3a" stroke-width="0.8"/>
<circle cx="351.2" cy="114.7" r="1.70" fill="#8f8f8f" stroke="#3a3a3a" stroke-width="0.8"/>
<circle cx="351.2" cy="122.6" r="1.70" fill="#8f8f8f" stroke="#3a3a3a" stroke-width="0.8"/>
<circle cx="351.2" cy="124.0" r="1.70" fill="#8f8f8f" stroke="#3a3a3a" stroke-width="0.8"/>
<circle cx="358.0" cy="111.4" r="1.95" fill="#000"/>
<circle cx="358.0" cy="114.7" r="1.95" fill="#000"/>
<circle cx="358.0" cy="117.3" r="1.95" fill="#000"/>
<circle cx="358.0" cy="120.0" r="1.95" fill="#000"/>
<circle cx="358.0" cy="123.3" r="1.95" fill="#000"/>
<circle cx="368.8" cy="56.1" r="1.85" fill="#fff" stroke="#1e1e1e" stroke-width="0.8"/>
<circle cx="368.8" cy="65.1" r="1.85" fill="#fff" stroke="#1e1e1e" stroke-width="0.8"/>
<circle cx="368.8" cy="72.5" r="1.85" fill="#fff" stroke="#1e1e1e" stroke-width="0.8"/>
<circle cx="368.8" cy="84.9" r="1.85" fill="#fff" stroke="#1e1e1e" stroke-width="0.8"/>
<circle cx="368.8" cy="94.7" r="1.85" fill="#fff" stroke="#1e1e1e" stroke-width="0.8"/>
<circle cx="368.8" cy="112.0" r="1.85" fill="#fff" stroke="#1e1e1e" stroke-width="0.8"/>
<circle cx="375.6" cy="99.9" r="1.70" fill="#8f8f8f" stroke="#3a3a3a" stroke-width="0.8"/>
<circle cx="375.6" cy="101.6" r="1.70" fill="#8f8f8f" stroke="#3a3a3a" stroke-width="0.8"/>
<circle cx="375.6" cy="105.2" r="1.70" fill="#8f8f8f" stroke="#3a3a3a" stroke-width="0.8"/>
<circle cx="375.6" cy="111.8" r="1.70" fill="#8f8f8f" stroke="#3a3a3a" stroke-width="0.8"/>
<circle cx="375.6" cy="114.7" r="1.70" fill="#8f8f8f" stroke="#3a3a3a" stroke-width="0.8"/>
<circle cx="382.3" cy="100.9" r="1.95" fill="#000"/>
<circle cx="382.3" cy="105.5" r="1.95" fill="#000"/>
<circle cx="382.3" cy="108.1" r="1.95" fill="#000"/>
<circle cx="382.3" cy="110.1" r="1.95" fill="#000"/>
<circle cx="382.3" cy="116.0" r="1.95" fill="#000"/>
<circle cx="393.4" cy="54.1" r="1.85" fill="#fff" stroke="#1e1e1e" stroke-width="0.8"/>
<circle cx="393.4" cy="67.0" r="1.85" fill="#fff" stroke="#1e1e1e" stroke-width="0.8"/>
<circle cx="393.4" cy="73.8" r="1.85" fill="#fff" stroke="#1e1e1e" stroke-width="0.8"/>
<circle cx="393.4" cy="79.6" r="1.85" fill="#fff" stroke="#1e1e1e" stroke-width="0.8"/>
<circle cx="393.4" cy="95.1" r="1.85" fill="#fff" stroke="#1e1e1e" stroke-width="0.8"/>
<circle cx="393.4" cy="98.9" r="1.85" fill="#fff" stroke="#1e1e1e" stroke-width="0.8"/>
<circle cx="400.0" cy="93.7" r="1.70" fill="#8f8f8f" stroke="#3a3a3a" stroke-width="0.8"/>
<circle cx="400.0" cy="98.7" r="1.70" fill="#8f8f8f" stroke="#3a3a3a" stroke-width="0.8"/>
<circle cx="400.0" cy="100.3" r="1.70" fill="#8f8f8f" stroke="#3a3a3a" stroke-width="0.8"/>
<circle cx="400.0" cy="105.7" r="1.70" fill="#8f8f8f" stroke="#3a3a3a" stroke-width="0.8"/>
<circle cx="400.0" cy="112.8" r="1.70" fill="#8f8f8f" stroke="#3a3a3a" stroke-width="0.8"/>
<circle cx="406.6" cy="100.3" r="1.95" fill="#000"/>
<circle cx="406.6" cy="102.4" r="1.95" fill="#000"/>
<circle cx="406.6" cy="107.4" r="1.95" fill="#000"/>
<circle cx="406.6" cy="112.3" r="1.95" fill="#000"/>
<circle cx="406.6" cy="123.5" r="1.95" fill="#000"/>
<circle cx="417.6" cy="52.9" r="1.85" fill="#fff" stroke="#1e1e1e" stroke-width="0.8"/>
<circle cx="417.6" cy="63.8" r="1.85" fill="#fff" stroke="#1e1e1e" stroke-width="0.8"/>
<circle cx="417.6" cy="77.7" r="1.85" fill="#fff" stroke="#1e1e1e" stroke-width="0.8"/>
<circle cx="417.6" cy="93.1" r="1.85" fill="#fff" stroke="#1e1e1e" stroke-width="0.8"/>
<circle cx="417.6" cy="102.4" r="1.85" fill="#fff" stroke="#1e1e1e" stroke-width="0.8"/>
<circle cx="424.4" cy="90.8" r="1.70" fill="#8f8f8f" stroke="#3a3a3a" stroke-width="0.8"/>
<circle cx="424.4" cy="93.3" r="1.70" fill="#8f8f8f" stroke="#3a3a3a" stroke-width="0.8"/>
<circle cx="424.4" cy="97.4" r="1.70" fill="#8f8f8f" stroke="#3a3a3a" stroke-width="0.8"/>
<circle cx="424.4" cy="104.5" r="1.70" fill="#8f8f8f" stroke="#3a3a3a" stroke-width="0.8"/>
<circle cx="424.4" cy="108.6" r="1.70" fill="#8f8f8f" stroke="#3a3a3a" stroke-width="0.8"/>
<circle cx="430.8" cy="90.4" r="1.95" fill="#000"/>
<circle cx="430.8" cy="95.8" r="1.95" fill="#000"/>
<circle cx="430.8" cy="97.8" r="1.95" fill="#000"/>
<circle cx="430.8" cy="107.0" r="1.95" fill="#000"/>
<circle cx="430.8" cy="113.6" r="1.95" fill="#000"/>
<circle cx="562.2" cy="114.7" r="2.70" fill="#fff" stroke="#1e1e1e" stroke-width="0.9"/>
<circle cx="576.0" cy="115.7" r="2.70" fill="#fff" stroke="#1e1e1e" stroke-width="0.9"/>
<circle cx="562.2" cy="122.1" r="2.70" fill="#fff" stroke="#1e1e1e" stroke-width="0.9"/>
<circle cx="576.0" cy="123.6" r="2.70" fill="#fff" stroke="#1e1e1e" stroke-width="0.9"/>
<circle cx="612.0" cy="84.4" r="2.70" fill="#8f8f8f" stroke="#3a3a3a" stroke-width="0.9"/>
<circle cx="602.4" cy="98.2" r="2.70" fill="#8f8f8f" stroke="#3a3a3a" stroke-width="0.9"/>
<circle cx="612.0" cy="99.9" r="2.70" fill="#8f8f8f" stroke="#3a3a3a" stroke-width="0.9"/>
<circle cx="621.5" cy="104.5" r="2.70" fill="#8f8f8f" stroke="#3a3a3a" stroke-width="0.9"/>
<circle cx="654.9" cy="64.5" r="3.05" fill="#000"/>
<circle cx="654.9" cy="86.7" r="3.05" fill="#000"/>
<circle cx="654.9" cy="95.2" r="3.05" fill="#000"/>
<circle cx="654.9" cy="106.8" r="3.05" fill="#000"/>
<circle cx="204.8" cy="239.9" r="2.05" fill="#fff" stroke="#1e1e1e" stroke-width="1.1"/>
<circle cx="204.8" cy="249.7" r="1.95" fill="#8f8f8f" stroke="#3a3a3a" stroke-width="1.1"/>
<circle cx="204.8" cy="259.6" r="2.4" fill="#000"/>
<circle cx="54.4" cy="326.0" r="1.85" fill="#fff" stroke="#1e1e1e" stroke-width="0.8"/>
<circle cx="61.1" cy="326.0" r="1.70" fill="#8f8f8f" stroke="#3a3a3a" stroke-width="0.8"/>
<circle cx="68.1" cy="326.3" r="1.95" fill="#000"/>
<circle cx="79.0" cy="324.5" r="1.85" fill="#fff" stroke="#1e1e1e" stroke-width="0.8"/>
<circle cx="79.0" cy="326.0" r="1.85" fill="#fff" stroke="#1e1e1e" stroke-width="0.8"/>
<circle cx="85.5" cy="324.2" r="1.70" fill="#8f8f8f" stroke="#3a3a3a" stroke-width="0.8"/>
<circle cx="85.5" cy="325.5" r="1.70" fill="#8f8f8f" stroke="#3a3a3a" stroke-width="0.8"/>
<circle cx="91.7" cy="325.5" r="1.95" fill="#000"/>
<circle cx="103.0" cy="308.3" r="1.85" fill="#fff" stroke="#1e1e1e" stroke-width="0.8"/>
<circle cx="103.0" cy="311.0" r="1.85" fill="#fff" stroke="#1e1e1e" stroke-width="0.8"/>
<circle cx="103.0" cy="313.8" r="1.85" fill="#fff" stroke="#1e1e1e" stroke-width="0.8"/>
<circle cx="103.0" cy="317.1" r="1.85" fill="#fff" stroke="#1e1e1e" stroke-width="0.8"/>
<circle cx="109.9" cy="311.0" r="1.70" fill="#8f8f8f" stroke="#3a3a3a" stroke-width="0.8"/>
<circle cx="109.9" cy="313.0" r="1.70" fill="#8f8f8f" stroke="#3a3a3a" stroke-width="0.8"/>
<circle cx="109.9" cy="316.0" r="1.70" fill="#8f8f8f" stroke="#3a3a3a" stroke-width="0.8"/>
<circle cx="109.9" cy="319.3" r="1.70" fill="#8f8f8f" stroke="#3a3a3a" stroke-width="0.8"/>
<circle cx="109.9" cy="322.1" r="1.70" fill="#8f8f8f" stroke="#3a3a3a" stroke-width="0.8"/>
<circle cx="116.2" cy="311.6" r="1.95" fill="#000"/>
<circle cx="116.2" cy="319.3" r="1.95" fill="#000"/>
<circle cx="116.2" cy="321.6" r="1.95" fill="#000"/>
<circle cx="116.2" cy="323.7" r="1.95" fill="#000"/>
<circle cx="116.2" cy="325.4" r="1.95" fill="#000"/>
<circle cx="127.7" cy="285.6" r="1.85" fill="#fff" stroke="#1e1e1e" stroke-width="0.8"/>
<circle cx="127.7" cy="295.6" r="1.85" fill="#fff" stroke="#1e1e1e" stroke-width="0.8"/>
<circle cx="127.7" cy="298.0" r="1.85" fill="#fff" stroke="#1e1e1e" stroke-width="0.8"/>
<circle cx="127.7" cy="300.5" r="1.85" fill="#fff" stroke="#1e1e1e" stroke-width="0.8"/>
<circle cx="127.7" cy="303.0" r="1.85" fill="#fff" stroke="#1e1e1e" stroke-width="0.8"/>
<circle cx="127.7" cy="305.8" r="1.85" fill="#fff" stroke="#1e1e1e" stroke-width="0.8"/>
<circle cx="134.0" cy="293.9" r="1.70" fill="#8f8f8f" stroke="#3a3a3a" stroke-width="0.8"/>
<circle cx="134.0" cy="303.0" r="1.70" fill="#8f8f8f" stroke="#3a3a3a" stroke-width="0.8"/>
<circle cx="134.0" cy="307.2" r="1.70" fill="#8f8f8f" stroke="#3a3a3a" stroke-width="0.8"/>
<circle cx="134.0" cy="317.1" r="1.70" fill="#8f8f8f" stroke="#3a3a3a" stroke-width="0.8"/>
<circle cx="140.6" cy="289.4" r="1.95" fill="#000"/>
<circle cx="140.6" cy="304.7" r="1.95" fill="#000"/>
<circle cx="140.6" cy="309.7" r="1.95" fill="#000"/>
<circle cx="140.6" cy="313.0" r="1.95" fill="#000"/>
<circle cx="140.6" cy="316.3" r="1.95" fill="#000"/>
<circle cx="151.9" cy="263.2" r="1.85" fill="#fff" stroke="#1e1e1e" stroke-width="0.8"/>
<circle cx="151.9" cy="279.8" r="1.85" fill="#fff" stroke="#1e1e1e" stroke-width="0.8"/>
<circle cx="151.9" cy="282.3" r="1.85" fill="#fff" stroke="#1e1e1e" stroke-width="0.8"/>
<circle cx="151.9" cy="285.1" r="1.85" fill="#fff" stroke="#1e1e1e" stroke-width="0.8"/>
<circle cx="151.9" cy="288.1" r="1.85" fill="#fff" stroke="#1e1e1e" stroke-width="0.8"/>
<circle cx="151.9" cy="290.6" r="1.85" fill="#fff" stroke="#1e1e1e" stroke-width="0.8"/>
<circle cx="151.9" cy="293.9" r="1.85" fill="#fff" stroke="#1e1e1e" stroke-width="0.8"/>
<circle cx="158.0" cy="269.5" r="1.70" fill="#8f8f8f" stroke="#3a3a3a" stroke-width="0.8"/>
<circle cx="158.0" cy="276.8" r="1.70" fill="#8f8f8f" stroke="#3a3a3a" stroke-width="0.8"/>
<circle cx="158.0" cy="294.7" r="1.70" fill="#8f8f8f" stroke="#3a3a3a" stroke-width="0.8"/>
<circle cx="158.0" cy="307.2" r="1.70" fill="#8f8f8f" stroke="#3a3a3a" stroke-width="0.8"/>
<circle cx="158.0" cy="309.3" r="1.70" fill="#8f8f8f" stroke="#3a3a3a" stroke-width="0.8"/>
<circle cx="158.0" cy="311.3" r="1.70" fill="#8f8f8f" stroke="#3a3a3a" stroke-width="0.8"/>
<circle cx="158.0" cy="313.0" r="1.70" fill="#8f8f8f" stroke="#3a3a3a" stroke-width="0.8"/>
<circle cx="165.5" cy="272.7" r="1.95" fill="#000"/>
<circle cx="165.5" cy="297.2" r="1.95" fill="#000"/>
<circle cx="165.5" cy="302.2" r="1.95" fill="#000"/>
<circle cx="165.5" cy="305.5" r="1.95" fill="#000"/>
<circle cx="165.5" cy="308.0" r="1.95" fill="#000"/>
<circle cx="165.5" cy="311.0" r="1.95" fill="#000"/>
<circle cx="175.9" cy="242.5" r="1.85" fill="#fff" stroke="#1e1e1e" stroke-width="0.8"/>
<circle cx="175.9" cy="265.7" r="1.85" fill="#fff" stroke="#1e1e1e" stroke-width="0.8"/>
<circle cx="175.9" cy="269.0" r="1.85" fill="#fff" stroke="#1e1e1e" stroke-width="0.8"/>
<circle cx="175.9" cy="272.3" r="1.85" fill="#fff" stroke="#1e1e1e" stroke-width="0.8"/>
<circle cx="175.9" cy="274.8" r="1.85" fill="#fff" stroke="#1e1e1e" stroke-width="0.8"/>
<circle cx="175.9" cy="277.3" r="1.85" fill="#fff" stroke="#1e1e1e" stroke-width="0.8"/>
<circle cx="175.9" cy="281.8" r="1.85" fill="#fff" stroke="#1e1e1e" stroke-width="0.8"/>
<circle cx="175.9" cy="286.1" r="1.85" fill="#fff" stroke="#1e1e1e" stroke-width="0.8"/>
<circle cx="182.9" cy="246.3" r="1.70" fill="#8f8f8f" stroke="#3a3a3a" stroke-width="0.8"/>
<circle cx="182.9" cy="257.1" r="1.70" fill="#8f8f8f" stroke="#3a3a3a" stroke-width="0.8"/>
<circle cx="182.9" cy="287.3" r="1.70" fill="#8f8f8f" stroke="#3a3a3a" stroke-width="0.8"/>
<circle cx="182.9" cy="299.4" r="1.70" fill="#8f8f8f" stroke="#3a3a3a" stroke-width="0.8"/>
<circle cx="182.9" cy="301.7" r="1.70" fill="#8f8f8f" stroke="#3a3a3a" stroke-width="0.8"/>
<circle cx="182.9" cy="303.8" r="1.70" fill="#8f8f8f" stroke="#3a3a3a" stroke-width="0.8"/>
<circle cx="182.9" cy="305.5" r="1.70" fill="#8f8f8f" stroke="#3a3a3a" stroke-width="0.8"/>
<circle cx="189.5" cy="252.9" r="1.95" fill="#000"/>
<circle cx="189.5" cy="288.6" r="1.95" fill="#000"/>
<circle cx="189.5" cy="293.1" r="1.95" fill="#000"/>
<circle cx="189.5" cy="296.4" r="1.95" fill="#000"/>
<circle cx="189.5" cy="306.0" r="1.95" fill="#000"/>
<circle cx="445.2" cy="240.6" r="2.05" fill="#fff" stroke="#1e1e1e" stroke-width="1.1"/>
<circle cx="445.2" cy="250.6" r="1.95" fill="#8f8f8f" stroke="#3a3a3a" stroke-width="1.1"/>
<circle cx="445.2" cy="260.3" r="2.4" fill="#000"/>
<circle cx="295.7" cy="304.3" r="1.85" fill="#fff" stroke="#1e1e1e" stroke-width="0.8"/>
<circle cx="295.7" cy="308.1" r="1.85" fill="#fff" stroke="#1e1e1e" stroke-width="0.8"/>
<circle cx="295.7" cy="311.8" r="1.85" fill="#fff" stroke="#1e1e1e" stroke-width="0.8"/>
<circle cx="295.7" cy="315.5" r="1.85" fill="#fff" stroke="#1e1e1e" stroke-width="0.8"/>
<circle cx="295.7" cy="318.8" r="1.85" fill="#fff" stroke="#1e1e1e" stroke-width="0.8"/>
<circle cx="295.7" cy="322.2" r="1.85" fill="#fff" stroke="#1e1e1e" stroke-width="0.8"/>
<circle cx="295.7" cy="326.0" r="1.85" fill="#fff" stroke="#1e1e1e" stroke-width="0.8"/>
<circle cx="302.9" cy="306.8" r="1.70" fill="#8f8f8f" stroke="#3a3a3a" stroke-width="0.8"/>
<circle cx="302.9" cy="310.6" r="1.70" fill="#8f8f8f" stroke="#3a3a3a" stroke-width="0.8"/>
<circle cx="302.9" cy="313.0" r="1.70" fill="#8f8f8f" stroke="#3a3a3a" stroke-width="0.8"/>
<circle cx="302.9" cy="315.5" r="1.70" fill="#8f8f8f" stroke="#3a3a3a" stroke-width="0.8"/>
<circle cx="302.9" cy="318.0" r="1.70" fill="#8f8f8f" stroke="#3a3a3a" stroke-width="0.8"/>
<circle cx="309.3" cy="306.3" r="1.95" fill="#000"/>
<circle cx="309.3" cy="309.3" r="1.95" fill="#000"/>
<circle cx="309.3" cy="312.3" r="1.95" fill="#000"/>
<circle cx="309.3" cy="314.8" r="1.95" fill="#000"/>
<circle cx="309.3" cy="317.3" r="1.95" fill="#000"/>
<circle cx="309.3" cy="320.5" r="1.95" fill="#000"/>
<circle cx="320.5" cy="284.0" r="1.85" fill="#fff" stroke="#1e1e1e" stroke-width="0.8"/>
<circle cx="320.5" cy="287.5" r="1.85" fill="#fff" stroke="#1e1e1e" stroke-width="0.8"/>
<circle cx="320.5" cy="309.3" r="1.85" fill="#fff" stroke="#1e1e1e" stroke-width="0.8"/>
<circle cx="320.5" cy="312.3" r="1.85" fill="#fff" stroke="#1e1e1e" stroke-width="0.8"/>
<circle cx="320.5" cy="321.2" r="1.85" fill="#fff" stroke="#1e1e1e" stroke-width="0.8"/>
<circle cx="326.7" cy="271.3" r="1.70" fill="#8f8f8f" stroke="#3a3a3a" stroke-width="0.8"/>
<circle cx="326.7" cy="285.7" r="1.70" fill="#8f8f8f" stroke="#3a3a3a" stroke-width="0.8"/>
<circle cx="326.7" cy="288.2" r="1.70" fill="#8f8f8f" stroke="#3a3a3a" stroke-width="0.8"/>
<circle cx="326.7" cy="290.7" r="1.70" fill="#8f8f8f" stroke="#3a3a3a" stroke-width="0.8"/>
<circle cx="326.7" cy="293.9" r="1.70" fill="#8f8f8f" stroke="#3a3a3a" stroke-width="0.8"/>
<circle cx="326.7" cy="296.4" r="1.70" fill="#8f8f8f" stroke="#3a3a3a" stroke-width="0.8"/>
<circle cx="333.4" cy="284.0" r="1.95" fill="#000"/>
<circle cx="333.4" cy="296.9" r="1.95" fill="#000"/>
<circle cx="333.4" cy="302.4" r="1.95" fill="#000"/>
<circle cx="333.4" cy="311.8" r="1.95" fill="#000"/>
<circle cx="344.6" cy="275.8" r="1.85" fill="#fff" stroke="#1e1e1e" stroke-width="0.8"/>
<circle cx="344.6" cy="284.5" r="1.85" fill="#fff" stroke="#1e1e1e" stroke-width="0.8"/>
<circle cx="344.6" cy="289.4" r="1.85" fill="#fff" stroke="#1e1e1e" stroke-width="0.8"/>
<circle cx="344.6" cy="293.9" r="1.85" fill="#fff" stroke="#1e1e1e" stroke-width="0.8"/>
<circle cx="344.6" cy="296.9" r="1.85" fill="#fff" stroke="#1e1e1e" stroke-width="0.8"/>
<circle cx="344.6" cy="301.9" r="1.85" fill="#fff" stroke="#1e1e1e" stroke-width="0.8"/>
<circle cx="344.6" cy="318.8" r="1.85" fill="#fff" stroke="#1e1e1e" stroke-width="0.8"/>
<circle cx="351.3" cy="262.1" r="1.70" fill="#8f8f8f" stroke="#3a3a3a" stroke-width="0.8"/>
<circle cx="351.3" cy="277.0" r="1.70" fill="#8f8f8f" stroke="#3a3a3a" stroke-width="0.8"/>
<circle cx="351.3" cy="280.7" r="1.70" fill="#8f8f8f" stroke="#3a3a3a" stroke-width="0.8"/>
<circle cx="351.3" cy="284.5" r="1.70" fill="#8f8f8f" stroke="#3a3a3a" stroke-width="0.8"/>
<circle cx="351.3" cy="288.2" r="1.70" fill="#8f8f8f" stroke="#3a3a3a" stroke-width="0.8"/>
<circle cx="351.3" cy="291.4" r="1.70" fill="#8f8f8f" stroke="#3a3a3a" stroke-width="0.8"/>
<circle cx="357.8" cy="275.0" r="1.95" fill="#000"/>
<circle cx="357.8" cy="284.5" r="1.95" fill="#000"/>
<circle cx="357.8" cy="288.2" r="1.95" fill="#000"/>
<circle cx="357.8" cy="299.4" r="1.95" fill="#000"/>
<circle cx="357.8" cy="309.3" r="1.95" fill="#000"/>
<circle cx="369.0" cy="274.0" r="1.85" fill="#fff" stroke="#1e1e1e" stroke-width="0.8"/>
<circle cx="369.0" cy="281.5" r="1.85" fill="#fff" stroke="#1e1e1e" stroke-width="0.8"/>
<circle cx="369.0" cy="287.0" r="1.85" fill="#fff" stroke="#1e1e1e" stroke-width="0.8"/>
<circle cx="369.0" cy="293.2" r="1.85" fill="#fff" stroke="#1e1e1e" stroke-width="0.8"/>
<circle cx="369.0" cy="299.4" r="1.85" fill="#fff" stroke="#1e1e1e" stroke-width="0.8"/>
<circle cx="369.0" cy="318.0" r="1.85" fill="#fff" stroke="#1e1e1e" stroke-width="0.8"/>
<circle cx="375.7" cy="258.9" r="1.70" fill="#8f8f8f" stroke="#3a3a3a" stroke-width="0.8"/>
<circle cx="375.7" cy="274.0" r="1.70" fill="#8f8f8f" stroke="#3a3a3a" stroke-width="0.8"/>
<circle cx="375.7" cy="279.0" r="1.70" fill="#8f8f8f" stroke="#3a3a3a" stroke-width="0.8"/>
<circle cx="375.7" cy="283.2" r="1.70" fill="#8f8f8f" stroke="#3a3a3a" stroke-width="0.8"/>
<circle cx="375.7" cy="286.5" r="1.70" fill="#8f8f8f" stroke="#3a3a3a" stroke-width="0.8"/>
<circle cx="375.7" cy="289.9" r="1.70" fill="#8f8f8f" stroke="#3a3a3a" stroke-width="0.8"/>
<circle cx="382.4" cy="273.8" r="1.95" fill="#000"/>
<circle cx="382.4" cy="284.5" r="1.95" fill="#000"/>
<circle cx="382.4" cy="287.0" r="1.95" fill="#000"/>
<circle cx="382.4" cy="291.4" r="1.95" fill="#000"/>
<circle cx="382.4" cy="298.9" r="1.95" fill="#000"/>
<circle cx="382.4" cy="308.1" r="1.95" fill="#000"/>
<circle cx="393.1" cy="273.8" r="1.85" fill="#fff" stroke="#1e1e1e" stroke-width="0.8"/>
<circle cx="393.1" cy="280.7" r="1.85" fill="#fff" stroke="#1e1e1e" stroke-width="0.8"/>
<circle cx="393.1" cy="287.0" r="1.85" fill="#fff" stroke="#1e1e1e" stroke-width="0.8"/>
<circle cx="393.1" cy="293.2" r="1.85" fill="#fff" stroke="#1e1e1e" stroke-width="0.8"/>
<circle cx="393.1" cy="298.1" r="1.85" fill="#fff" stroke="#1e1e1e" stroke-width="0.8"/>
<circle cx="393.1" cy="318.0" r="1.85" fill="#fff" stroke="#1e1e1e" stroke-width="0.8"/>
<circle cx="399.8" cy="255.2" r="1.70" fill="#8f8f8f" stroke="#3a3a3a" stroke-width="0.8"/>
<circle cx="399.8" cy="272.5" r="1.70" fill="#8f8f8f" stroke="#3a3a3a" stroke-width="0.8"/>
<circle cx="399.8" cy="279.0" r="1.70" fill="#8f8f8f" stroke="#3a3a3a" stroke-width="0.8"/>
<circle cx="399.8" cy="282.5" r="1.70" fill="#8f8f8f" stroke="#3a3a3a" stroke-width="0.8"/>
<circle cx="399.8" cy="285.7" r="1.70" fill="#8f8f8f" stroke="#3a3a3a" stroke-width="0.8"/>
<circle cx="399.8" cy="289.4" r="1.70" fill="#8f8f8f" stroke="#3a3a3a" stroke-width="0.8"/>
<circle cx="406.7" cy="272.9" r="1.95" fill="#000"/>
<circle cx="406.7" cy="283.2" r="1.95" fill="#000"/>
<circle cx="406.7" cy="287.4" r="1.95" fill="#000"/>
<circle cx="406.7" cy="297.7" r="1.95" fill="#000"/>
<circle cx="406.7" cy="307.1" r="1.95" fill="#000"/>
<circle cx="417.9" cy="273.8" r="1.85" fill="#fff" stroke="#1e1e1e" stroke-width="0.8"/>
<circle cx="417.9" cy="281.5" r="1.85" fill="#fff" stroke="#1e1e1e" stroke-width="0.8"/>
<circle cx="417.9" cy="287.5" r="1.85" fill="#fff" stroke="#1e1e1e" stroke-width="0.8"/>
<circle cx="417.9" cy="293.2" r="1.85" fill="#fff" stroke="#1e1e1e" stroke-width="0.8"/>
<circle cx="417.9" cy="296.9" r="1.85" fill="#fff" stroke="#1e1e1e" stroke-width="0.8"/>
<circle cx="417.9" cy="317.3" r="1.85" fill="#fff" stroke="#1e1e1e" stroke-width="0.8"/>
<circle cx="424.1" cy="252.9" r="1.70" fill="#8f8f8f" stroke="#3a3a3a" stroke-width="0.8"/>
<circle cx="424.1" cy="271.3" r="1.70" fill="#8f8f8f" stroke="#3a3a3a" stroke-width="0.8"/>
<circle cx="424.1" cy="277.5" r="1.70" fill="#8f8f8f" stroke="#3a3a3a" stroke-width="0.8"/>
<circle cx="424.1" cy="281.5" r="1.70" fill="#8f8f8f" stroke="#3a3a3a" stroke-width="0.8"/>
<circle cx="424.1" cy="285.7" r="1.70" fill="#8f8f8f" stroke="#3a3a3a" stroke-width="0.8"/>
<circle cx="424.1" cy="288.9" r="1.70" fill="#8f8f8f" stroke="#3a3a3a" stroke-width="0.8"/>
<circle cx="431.1" cy="272.0" r="1.95" fill="#000"/>
<circle cx="431.1" cy="282.0" r="1.95" fill="#000"/>
<circle cx="431.1" cy="287.0" r="1.95" fill="#000"/>
<circle cx="431.1" cy="296.9" r="1.95" fill="#000"/>
<circle cx="431.1" cy="304.3" r="1.95" fill="#000"/>
<circle cx="559.7" cy="249.7" r="2.70" fill="#fff" stroke="#1e1e1e" stroke-width="0.9"/>
<circle cx="569.5" cy="246.7" r="2.70" fill="#fff" stroke="#1e1e1e" stroke-width="0.9"/>
<circle cx="569.5" cy="249.7" r="2.70" fill="#fff" stroke="#1e1e1e" stroke-width="0.9"/>
<circle cx="578.7" cy="255.3" r="2.70" fill="#fff" stroke="#1e1e1e" stroke-width="0.9"/>
<circle cx="605.3" cy="255.5" r="2.70" fill="#8f8f8f" stroke="#3a3a3a" stroke-width="0.9"/>
<circle cx="612.4" cy="254.4" r="2.70" fill="#8f8f8f" stroke="#3a3a3a" stroke-width="0.9"/>
<circle cx="619.6" cy="263.4" r="2.70" fill="#8f8f8f" stroke="#3a3a3a" stroke-width="0.9"/>
<circle cx="612.4" cy="273.7" r="2.70" fill="#8f8f8f" stroke="#3a3a3a" stroke-width="0.9"/>
<circle cx="645.8" cy="258.5" r="3.05" fill="#000"/>
<circle cx="655.4" cy="262.0" r="3.05" fill="#000"/>
<circle cx="665.2" cy="264.7" r="3.05" fill="#000"/>
<circle cx="655.4" cy="274.3" r="3.05" fill="#000"/>
<circle cx="78.3" cy="441.0" r="2.70" fill="#fff" stroke="#1e1e1e" stroke-width="0.9"/>
<circle cx="78.3" cy="457.9" r="2.70" fill="#fff" stroke="#1e1e1e" stroke-width="0.9"/>
<circle cx="70.9" cy="475.1" r="2.70" fill="#fff" stroke="#1e1e1e" stroke-width="0.9"/>
<circle cx="85.3" cy="475.9" r="2.70" fill="#fff" stroke="#1e1e1e" stroke-width="0.9"/>
<circle cx="121.3" cy="475.1" r="2.70" fill="#8f8f8f" stroke="#3a3a3a" stroke-width="0.9"/>
<circle cx="111.8" cy="486.1" r="2.70" fill="#8f8f8f" stroke="#3a3a3a" stroke-width="0.9"/>
<circle cx="121.3" cy="486.5" r="2.70" fill="#8f8f8f" stroke="#3a3a3a" stroke-width="0.9"/>
<circle cx="130.8" cy="488.8" r="2.70" fill="#8f8f8f" stroke="#3a3a3a" stroke-width="0.9"/>
<circle cx="155.0" cy="487.8" r="3.05" fill="#000"/>
<circle cx="164.5" cy="488.2" r="3.05" fill="#000"/>
<circle cx="174.0" cy="492.4" r="3.05" fill="#000"/>
<circle cx="164.5" cy="500.3" r="3.05" fill="#000"/>
<circle cx="319.9" cy="434.6" r="2.70" fill="#fff" stroke="#1e1e1e" stroke-width="0.9"/>
<circle cx="309.9" cy="450.9" r="2.70" fill="#fff" stroke="#1e1e1e" stroke-width="0.9"/>
<circle cx="319.5" cy="455.4" r="2.70" fill="#fff" stroke="#1e1e1e" stroke-width="0.9"/>
<circle cx="329.1" cy="458.9" r="2.70" fill="#fff" stroke="#1e1e1e" stroke-width="0.9"/>
<circle cx="355.7" cy="463.6" r="2.70" fill="#8f8f8f" stroke="#3a3a3a" stroke-width="0.9"/>
<circle cx="370.0" cy="465.0" r="2.70" fill="#8f8f8f" stroke="#3a3a3a" stroke-width="0.9"/>
<circle cx="355.7" cy="477.9" r="2.70" fill="#8f8f8f" stroke="#3a3a3a" stroke-width="0.9"/>
<circle cx="370.0" cy="482.6" r="2.70" fill="#8f8f8f" stroke="#3a3a3a" stroke-width="0.9"/>
<circle cx="406.0" cy="469.1" r="3.05" fill="#000"/>
<circle cx="406.0" cy="478.5" r="3.05" fill="#000"/>
<circle cx="398.8" cy="482.6" r="3.05" fill="#000"/>
<circle cx="413.1" cy="490.1" r="3.05" fill="#000"/>
</svg></body></html>
